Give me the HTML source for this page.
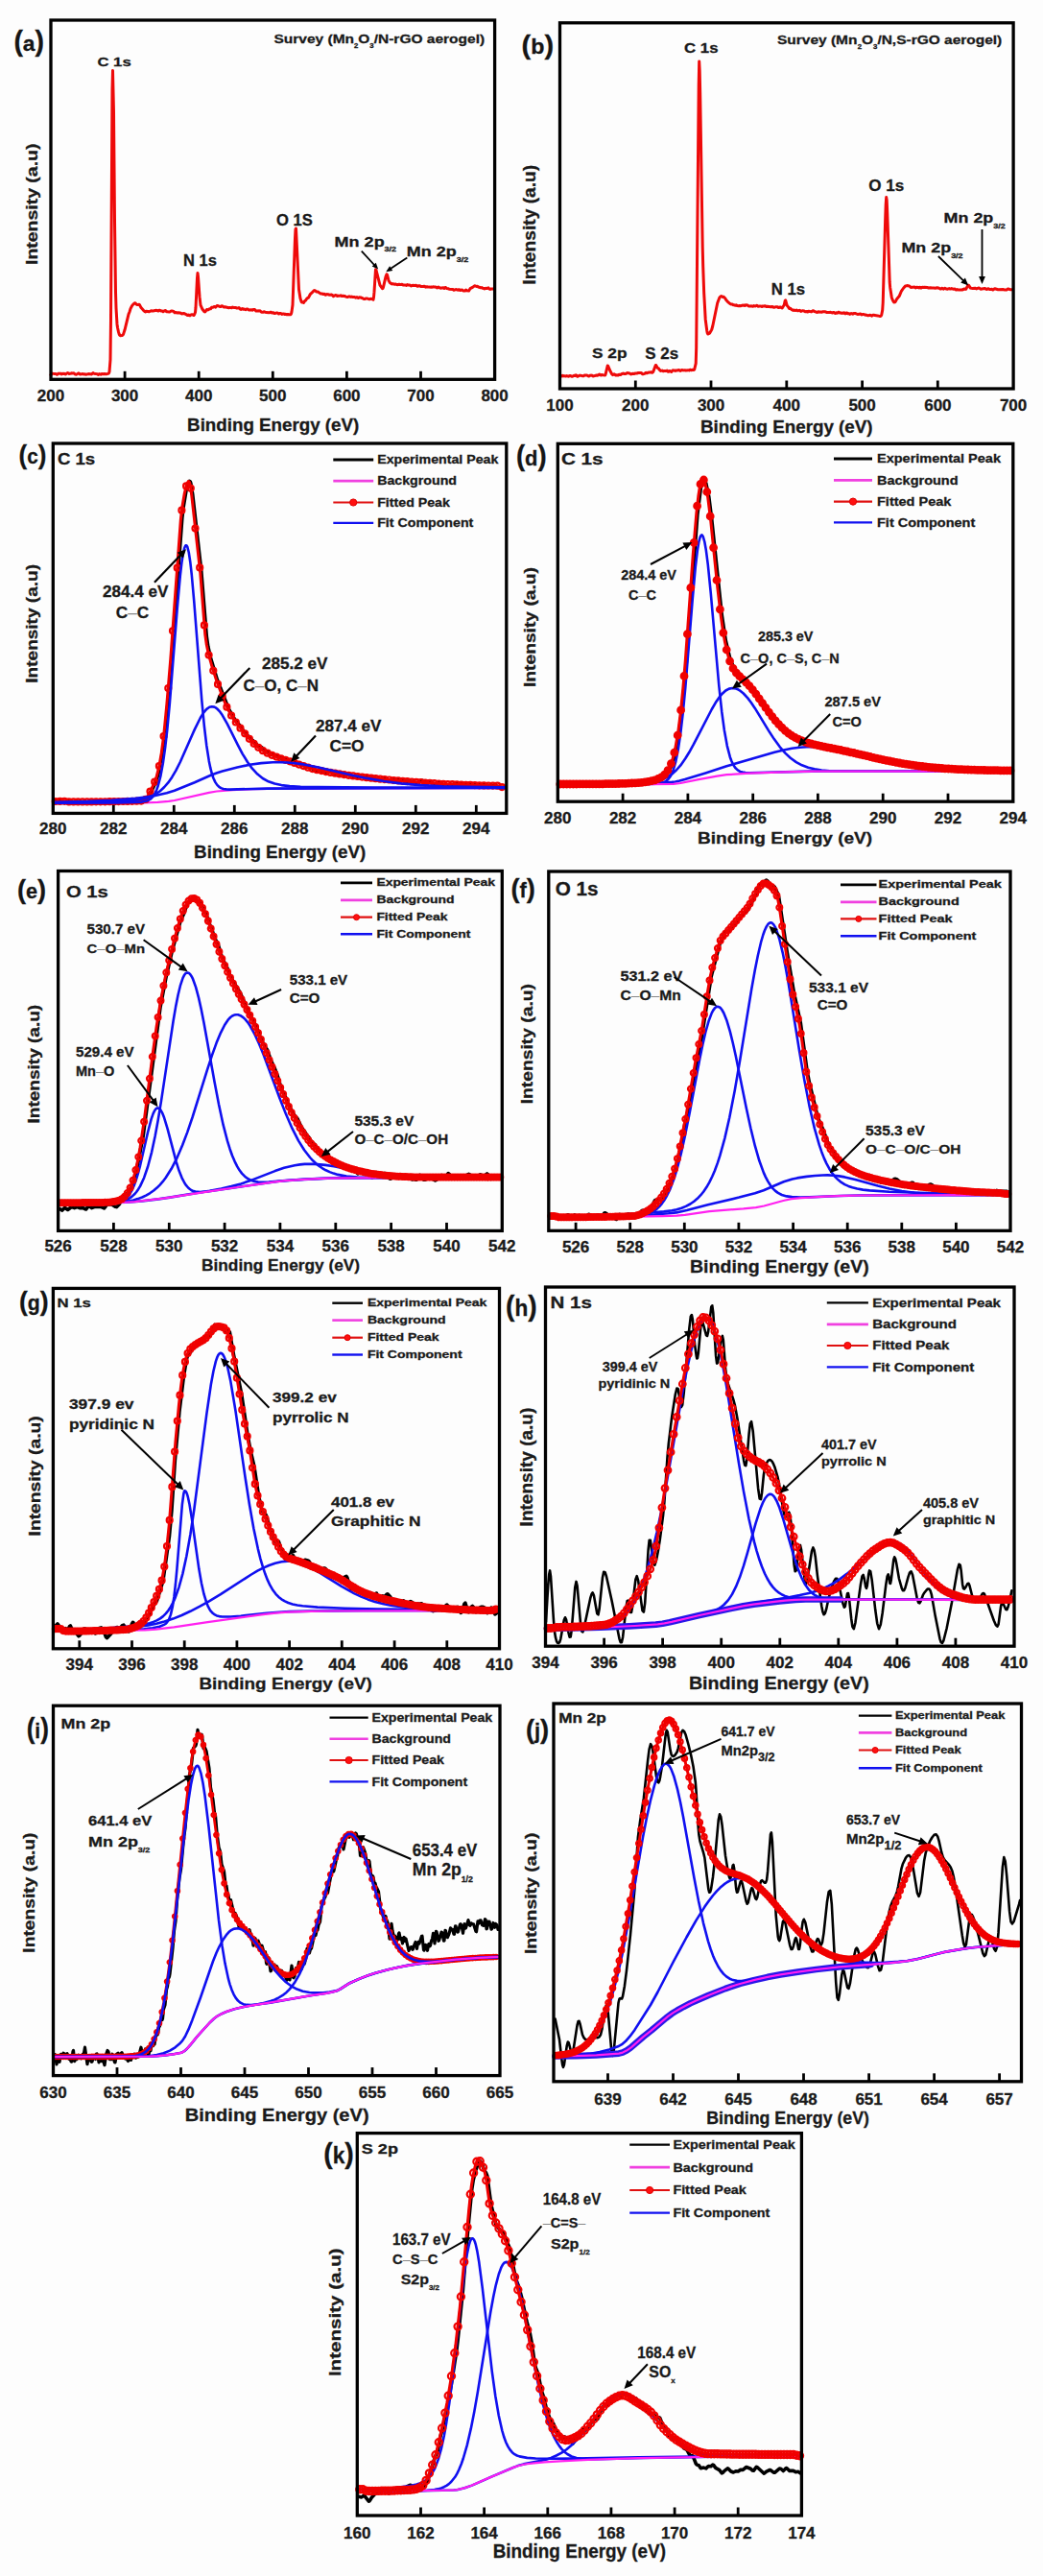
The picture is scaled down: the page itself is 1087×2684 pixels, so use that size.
<!DOCTYPE html>
<html><head><meta charset="utf-8"><style>
html,body{margin:0;padding:0;background:#fdfdfd;}
body{width:1087px;height:2684px;overflow:hidden;font-family:"Liberation Sans",sans-serif;}
svg{display:block;}
text{stroke:#1a1a1a;stroke-width:0.3px;}
</style></head><body>
<svg width="1087" height="2684" viewBox="0 0 1087 2684" font-family="'Liberation Sans', sans-serif" font-weight="bold"><rect width="1087" height="2684" fill="#fdfdfd"/><path d="M53,390.6l1.5,-1.5l1.5,0.3l2,0l1,0.8l0.5,0l1.5,-1.1l1,0.2l1,-0.2l1,0.8l1,-0.6l1,0.2l1,-0.2l1,0.6l0.5,0.1l1,-1l1,-0.5l1.5,1l1,-0.3l0.5,0.1l1,-0.5l1.5,0.2l1,-0.2l1.5,1.3l1,0.1l2.5,-1.4l1.5,1.2l3,-0.5l1,0.5l1,-0.2l1,0.4l2.5,-0.6l2.5,0.1l1,0.3l1.5,-1.4l1,0.6l1.5,0.4l2,0.1l1,0.7l1,-0.8l1.5,0.6l1,-0.7l1.5,0.2l1,-0.3l2.5,0.4l1.5,-0.4l1,-0.5l0.5,-1.6l1,-12.5l0.5,-41.5l1.5,-240.5l0.5,-19.3l1,43.5l1,113.1l1,74.1l0.5,16.6l1,16.9l0.5,3.6l1,4.6l0.5,1.8l0.5,1.2l0.5,0.5l0.5,0.3l1.5,-0.1l1,-0.6l0.5,-0.6l1.5,-4.6l4,-16.4l1,-2.4l1,-3.4l1.5,-2.9l1.5,-1.8l1.5,-1.1l0.5,0l1,1.1l1,0.7l2,-0.4l0.5,0.4l1.5,3l2.5,2.7l1.5,1.4l0.5,0.2l1,-0.7l3,0.6l2,-1.1l1,0.3l1,0l3.5,-0.7l2,0.7l1,-0.8l2,0.8l1,0l1,0.7l1.5,-1l1,-0.1l1,1.1l1,0l2,0.4l1,-0.4l1,-0.8l0.5,0l2,0.6l1,1.2l1,-0.2l2,0.5l1,-0.2l1.5,0.1l2,1l1,-0.1l1,-0.4l0.5,0.2l2.5,1.2l0.5,0.6l0.5,0.2l1,-0.5l1,0.7l0.5,0l1,-0.9l1,-0.2l2,0.8l0.5,-0.6l1,-2.4l0.5,-5l1.5,-30.7l0.5,-5.4l0.5,4l1.5,20.8l1,8.6l2,4.5l2,2.5l0.5,0.1l0.5,-0.3l1.5,-2.1l1,0.4l0.5,-0.1l1.5,-1.1l1,0.1l1,-1.5l1.5,-0.1l1.5,-0.8l1,0.8l1.5,-1.5l0.5,-0.3l3,1.2l0.5,-0.1l1,-0.8l0.5,0l1.5,1.2l1.5,-0.2l4,1l1,-0.3l2,0.4l1,-0.7l1,0.3l2,0l1,0.6l1.5,0l1,-0.5l1.5,1.7l0.5,0.2l1.5,-0.9l1,0.7l1,-0.2l1.5,0.7l1,-0.7l1,0l1.5,1l0.5,0.1l1.5,-0.4l1.5,0.5l1,-0.7l1.5,0.1l1.5,1.5l1.5,0l0.5,-0.3l1,0.1l1,-0.1l1.5,1.5l1.5,0l1,-0.5l2.5,0.8l3,0.2l1.5,-0.6l0.5,0l1,0.9l1.5,-0.4l1,0.9l0.5,0l2,-0.7l1,0.3l1,0.8l1.5,-0.6l0.5,0.1l1.5,0.9l1.5,-0.5l1,0.5l0.5,-0.2l2,0.5l1,-0.3l0.5,0.3l2,-0.3l0.5,0.2l0.5,-0.7l0.5,-2l1,-7.1l2.5,-69.5l0.5,-9.3l0.5,-1l3,63.5l1.5,9.4l1,3.2l0.5,0.8l1,-0.1l1,0.6l1,-1.6l1,-0.7l1.5,-2.3l1.5,-0.7l2,-3.8l2.5,-2.2l1,-1.3l0.5,-0.2l1,0.2l1.5,1.3l1.5,-0.1l1,1.1l0.5,0l1,0.8l2,0.2l1,0.5l1,-0.4l1,0.9l0.5,0.2l1,-0.7l0.5,-0.1l0.5,0.3l1,0l1,0.5l2,-0.3l0.5,0.1l1.5,1.6l2,-1.2l1,0.3l1,0.7l1,-0.4l1,0.2l1.5,-0.5l1,0.7l1.5,-0.3l1.5,0.2l1.5,0.7l1.5,0.4l2,-0.7l1.5,0.6l1,-0.3l1,0.4l2,-0.1l1,0.8l1.5,-0.6l1,0.8l0.5,0l1,-0.6l1.5,0.1l1,0.6l0.5,-0.1l1,0.8l1.5,0.4l1,-0.5l2,0l2,0.7l2,-0.6l2,1.1l0.5,-2.5l0.5,-5.6l1.5,-23.5l0.5,0.6l4,15.9l2.5,3.5l0.5,-0.3l0.5,-1.3l2.5,-10.8l1,-2.6l0.5,0.5l1.5,6l1.5,2.5l2,1.2l1,-0.2l2,0.5l1,-0.2l1,0.5l1,0.2l1.5,-0.5l2,0.4l1,-0.4l1.5,0.9l2,-0.1l1,0.5l1,-0.9l1,0.5l1,-0.1l1,0.3l1,0.6l1.5,-0.6l2,0.3l1.5,-0.4l1.5,1.1l1,-0.5l1,0.1l0.5,-0.2l1.5,0.9l1.5,0l1.5,-0.4l0.5,0.2l1,0.8l1.5,-0.5l2,0.4l2,0.1l0.5,-0.2l1,0.2l1,-0.4l1,0.3l1,-0.1l1,0.3l1,0.6l0.5,-0.1l1,-0.7l0.5,0.2l0.5,0.5l1.5,0.4l1,-0.3l1.5,-0.1l1,0.7l1,-1.1l0.5,0.1l1,1l1.5,0.2l1,0.5l4,0.2l1,0.9l2,-0.7l0.5,0l2,0.6l1,-0.5l1,0.8l2,-0.5l1.5,1.1l1.5,0l1,-1l1,0.7l2,0.3l1.5,-2.4l2.5,-1.3l2,-1.6l1,0.2l1,0.5l1,-0.2l1,0.7l2.5,0.8l1,-0.2l1,0.7l1,0.1l1,0.5l1.5,-0.6l1,0.3l1.5,-0.7l1,1.1l1,0.4l1,-0.5l2,0.2" fill="none" stroke="#ee0a0a" stroke-width="3.00" stroke-linejoin="round" stroke-linecap="round"/>
<path d="M583.7,392.1l1.5,-0.2l1,-0.6l1,0.6l1,-0.2l1.5,0.3l1,-0.4l1.5,0.6l0.5,-0.1l1,-0.6l1,0.1l1.5,0.7l2,-1l1,0.1l1,-0.7l0.5,0.3l1,1.3l2,-1l1,-0.2l2.5,0.6l1,0l1,-0.7l2.5,0l2,1.1l1,-0.8l1,-0.2l1.5,0.2l1,0.7l0.5,-0.1l3,-0.9l1,0.3l2,-1.2l1.5,1l1,-0.6l1,0.3l2.5,0.1l0.5,-1.2l2,-8.7l0.5,0.3l2.5,5.8l1.5,2.7l1,0.9l1,-0.8l0.5,-0.1l1.5,1.2l1,-0.3l1.5,0.3l1,-0.8l1.5,0.3l1.5,-1.2l0.5,0.2l1,-0.5l1,0.6l1,0l2,-1l2.5,0.4l1.5,0.9l0.5,-0.1l1,-0.6l1.5,0.3l1.5,-0.5l1.5,0l1.5,-0.5l3,-0.1l1.5,1.4l0.5,0l1.5,-0.4l1,-0.9l0.5,-0.2l1,0.5l1,-0.5l1.5,-0.3l1,0.1l0.5,-0.4l0.5,0.1l1,0.5l1,-0.8l2.5,-6.8l0.5,-0.2l1.5,2.9l1,0.2l1,1.6l1,0.9l0.5,0.3l1.5,-0.3l1,0.6l1,-0.3l1.5,0.2l1.5,-0.5l1,1.1l0.5,0.1l1,-0.9l2,1l1.5,-1.6l1,0.1l1.5,0.5l0.5,-0.3l1.5,0l0.5,-0.4l1.5,-0.1l1.5,0.8l1,-0.8l0.5,-0.1l2,0.4l1,-0.2l1,0.3l2.5,-0.3l1,0.2l1,-0.7l1,0.5l2,-0.5l1,0.3l0.5,-0.5l1.5,-6.3l0.5,-16.4l2.5,-273.4l0.5,-25l0.5,10.2l0.5,24l2.5,159.5l0.5,19.5l1,28.3l1.5,27.3l1.5,11.6l0.5,2.6l0.5,1.1l1.5,-0.6l0.5,-0.5l2,-3.4l1,-3.5l5,-24.2l2,-5.4l1,-1.4l1,-0.5l1.5,0.9l0.5,-0.2l0.5,0.1l1.5,1.5l1,1.6l2.5,2.8l1.5,1.2l1.5,0.7l1,-0.1l1,0.7l1,0l1,0.6l1,-0.5l1,0.7l1.5,0.2l1,-0.2l1.5,0.2l1.5,-0.6l0.5,0.2l1,-0.4l1,0.5l1,-0.7l2,0.3l1,0.9l2,0.1l1,-0.2l1.5,0.5l1,-0.7l1.5,0.4l1.5,-0.8l1.5,1.1l1.5,-0.2l1.5,0l1,0.4l1,-0.6l1,0.2l1,-0.4l0.5,0.1l1,0.8l1,-0.4l3.5,0.6l1.5,-0.3l2,0.8l1.5,-0.5l1.5,-0.1l0.5,0.1l1,0.7l0.5,0l1.5,-0.6l0.5,0.1l1,0.9l0.5,0.1l2,-3.2l1,-4.4l0.5,-0.5l1.5,5.4l1.5,1.8l0.5,1l0.5,0.4l1,-0.3l1,1.2l2,1l1,-0.3l1,0.5l1.5,-0.5l1,0.6l1,0l1,-0.4l0.5,0.2l1,1l1.5,-0.8l0.5,0l1,0.2l1.5,0.9l1.5,-0.2l1,0.4l1,-0.8l3,0.7l1.5,-1.1l0.5,-0.1l1,0.7l0.5,0l1,0.7l1,0.3l0.5,0l1,-0.6l0.5,0l0.5,0.4l1,-0.3l1.5,0.4l1,-0.5l2.5,0l1.5,0.4l0.5,0.4l1,-0.2l1.5,0.1l1.5,-0.2l1.5,0.7l1.5,-0.6l0.5,0.1l1,0.9l0.5,0l1,-0.7l1,0.6l1,-1l0.5,-0.1l1,0.8l1,0l1,0.4l1,-0.3l1,0.1l0.5,-0.4l0.5,0.3l0.5,0.6l0.5,0.1l1,-0.8l0.5,0l1,0.8l1,-0.2l1,0.9l1,-0.9l0.5,-0.1l1.5,0.7l1,-0.6l2,0l2,0.9l2,-0.2l1,-0.4l1.5,1l1.5,-0.5l2,0.8l1,-0.1l2,0.7l1.5,-0.5l1.5,0.2l1,0.6l1,-0.8l1,-0.1l1,0.4l3,0.3l2.5,0.7l1,-0.4l0.5,-1l1,-5.1l0.5,-7.6l2.5,-87.8l0.5,-14.6l0.5,-7.5l0.5,3.2l0.5,12.1l2.5,73.1l0.5,5.7l1.5,9.6l0.5,1.9l1,2.3l1,1.5l1,-0.2l0.5,-0.4l1.5,-3l2.5,-2.8l2,-4.9l2.5,-3.7l2,-2.1l1.5,-0.3l2.5,0.4l1.5,1.4l4,-0.4l1,0.9l1,-0.6l0.5,0l2,0.6l1,-0.7l1,0.7l0.5,0l1,-0.6l1,0.3l1,-0.4l3.5,0.3l1,0.6l2,-0.3l1,0.3l2.5,-0.1l1.5,0.3l2,-0.5l2,0.5l1.5,0.8l0.5,-0.1l1,-0.7l0.5,0.1l1,0.8l1.5,-0.9l0.5,0.1l1,0.7l1,0.1l2,-0.6l1,0.5l0.5,0l1,-0.5l1.5,0.6l2,-0.2l1,1l0.5,0.1l1,-0.5l1.5,0.5l1,-0.2l2.5,0.1l2.5,-1l1,0.4l0.5,-0.1l2,-4l0.5,-0.1l0.5,0.2l0.5,0.7l1,1.9l2.5,0.6l2.5,-0.4l1.5,0.7l2.5,-1l2,1.3l2.5,-0.5l0.5,0.1l1,-0.4l2,1.1l0.5,-0.1l1,-0.7l2,0.9l2,-0.4l1,0.7l0.5,0l1.5,-1.2l3.5,1.1l5.5,-0.3l1,0.5l2,0.1l0.5,-0.1l1,-1l0.5,0l2,0.7l2,0.1" fill="none" stroke="#ee0a0a" stroke-width="3.00" stroke-linejoin="round" stroke-linecap="round"/>
<path d="M56.8,834.8l3,-0.5l8,1.3l3,-0.8l4,0.7l5.5,-0.5l3,1l3.5,-0.6l6.5,0.8l3.5,-1.3l8.5,0.7l2.5,-0.2l2.5,0.8l3,-1l10.5,0.3l3.5,-0.7l8.5,-0.4l4.5,1.8l3.5,-1.5l7,-1.2l1.5,-1l4,-4.7l6,-13.1l2.5,-7.6l3,-13.2l4,-26.8l6,-65.5l12,-161.8l1.5,-12.4l2.5,-15l2,-8.4l1.5,-2.7l1,0.7l0.5,1.3l2,12.3l9,79.7l5.5,67.8l1.5,10.3l2.5,11.3l7,23.2l12,30.7l7,12.1l4,4.4l5.5,8.1l6.5,6.6l4,3.3l3.5,4.1l1,0.7l3,0.8l2.5,2.7l5,4l7.5,2l3,2l5.5,1.3l6,2.8l10,2.3l7,3l5,1.1l4,2.9l5,-0.2l7,2l4,-0.4l3.5,1.8l4,0.3l2.5,1.2l9,0l4,1.7l2.5,0.4l5.5,-0.9l4.5,1.3l4,-0.7l4.5,1.7l2.5,0l4.5,1.3l6,-1l4.5,1.9l11.5,-0.7l5.5,1.9l3,-0.4l4,0.3l4.5,1.6l2,-0.3l3,-2.3l1,-0.1l3.5,2.3l5.5,-0.5l4,2.1l3.5,-1.5l1.5,-0.1l3.5,2l3,0.3l3,1.1l6,-2.1l7.5,0.1l3,1.1l3.5,-0.7l3.5,0.5l6.5,-0.8l3,0.5l2.5,-0.8l3.5,1.4l10.5,0.8l4,1.6l5,-0.2" fill="none" stroke="#000000" stroke-width="3.60" stroke-linejoin="round" stroke-linecap="round"/>
<path d="M56.8,836.8l93.5,-0.3l14,-0.6l11.5,-1l6,-0.9l36,-8.1l8,-1.4l16.5,-1.3l21,-1.1l16,-0.3l81.5,-0.5l165.5,-0.3" fill="none" stroke="#ff20f0" stroke-width="2.20" stroke-linejoin="round" stroke-linecap="round"/>
<path d="M56.8,835l11,-0.2l4.5,0.6l29,-0.1l28,-0.3l20,-0.5l1,-0.3l1,-0.8l1.5,-2l5,-9.2l2.5,-5.3l3,-8.2l2.5,-10l2.5,-14.3l2.5,-19l3,-31.1l4,-48l10.5,-144.3l1.5,-13.3l2.5,-14.6l2,-8.4l1,-2.7l1,-1.4l0.5,0l0.5,0.6l0.5,1.4l1,5.2l1,7.7l9,80.9l5,63.7l1.5,10.7l2,9.6l3,10.8l5.5,17.3l7.5,19.9l4.5,10.2l4,7l6,8.6l11,13.4l5,5.4l5.5,4.8l4.5,3.3l5.5,2.9l7.5,3.1l37,12.5l9,2.1l11.5,2.2l15,2.3l18,2.4l18,2l20,1.8l28,2.2l19.5,1.2l30,1.2l25,0.7l1,0.1l3,1.2l4.5,0.1" fill="none" stroke="#f00000" stroke-width="3.00" stroke-linejoin="round" stroke-linecap="round"/>
<marker id="m5" markerUnits="userSpaceOnUse" markerWidth="10.0" markerHeight="10.0" refX="5.0" refY="5.0" overflow="visible"><circle cx="5.0" cy="5.0" r="3.0" fill="none" stroke="#f00000" stroke-width="2.2"/></marker>
<path d="M57.8,835l4.7,-0.1l4.7,-0.1l4.7,0.6l4.7,0l4.7,0l4.7,0l4.7,0l4.7,0l4.7,-0.1l4.7,0l4.7,0l4.7,-0.1l4.7,0l4.7,-0.1l4.7,-0.1l4.7,-0.1l4.7,-0.1l4.7,-0.1l4.7,-0.1l4.7,-1.7l4.7,-8.3l4.7,-9.9l4.7,-16.5l4.7,-31.1l4.7,-50.1l4.7,-59.7l4.7,-65.6l4.7,-60l4.7,-25.3l4.7,2.4l4.7,41.8l4.7,40.8l4.7,60l4.7,31.2l4.7,16.2l4.7,14.1l4.7,12.4l4.7,11.4l4.7,8.8l4.7,7l4.7,6.2l4.7,5.6l4.7,5.5l4.7,5l4.7,4l4.7,3.4l4.7,2.5l4.7,2.1l4.7,1.8l4.7,1.7l4.7,1.5l4.7,1.5l4.7,1.6l4.7,1.7l4.7,1.5l4.7,1.6l4.7,1.4l4.7,1.1l4.7,0.9l4.7,1l4.7,0.8l4.7,0.8l4.7,0.7l4.7,0.7l4.7,0.7l4.7,0.6l4.7,0.6l4.7,0.6l4.7,0.6l4.7,0.5l4.7,0.5l4.7,0.5l4.7,0.4l4.7,0.4l4.7,0.5l4.7,0.4l4.7,0.4l4.7,0.3l4.7,0.4l4.7,0.4l4.7,0.3l4.7,0.4l4.7,0.3l4.7,0.3l4.7,0.3l4.7,0.3l4.7,0.2l4.7,0.2l4.7,0.2l4.7,0.2l4.7,0.2l4.7,0.1l4.7,0.2l4.7,0.2l4.7,0.1l4.7,0.1l4.7,0.1l4.7,0.1l4.7,1.4" fill="none" stroke="none" marker-start="url(#m5)" marker-mid="url(#m5)" marker-end="url(#m5)"/>
<path d="M56.8,836.7l65,-0.3l18,-0.4l8,-0.4l5,-1l3.5,-1.7l1.5,-1.2l1.5,-1.6l2.5,-4l1.5,-3.3l1.5,-4.3l2.5,-9.6l2.5,-13.4l2.5,-17.8l2,-17.7l2.5,-26.3l8,-100.7l3,-33.1l1.5,-13l1.5,-9.9l1.5,-6.3l1,-2.2l0.5,-0.3l0.5,0l1,1.6l1.5,6l1.5,9.9l1.5,13.3l2.5,28.2l8,102.6l2.5,26.2l2.5,21l2.5,15.9l1.5,7.3l1.5,5.8l1.5,4.5l2,4.4l2,3l2,1.9l2,1.3l2.5,0.9l3,0.4l3.5,0.2l39,-1l131,-0.5l117,-0.1" fill="none" stroke="#1010f0" stroke-width="2.60" stroke-linejoin="round" stroke-linecap="round"/>
<path d="M56.8,836.2l51,-0.8l17,-0.6l11.5,-0.7l8.5,-0.9l7,-1.4l5.5,-1.9l5,-2.6l4.5,-3.1l4.5,-4.2l4,-4.6l4,-5.7l4,-6.8l4.5,-8.9l15,-33.9l6,-12.1l3.5,-5.6l3,-3.5l3,-2.1l2.5,-0.6l2.5,0.4l1.5,0.8l1.5,1.1l2.5,2.6l3,4.2l5,8.8l11,22l5,9.5l5,8.2l5,6.9l5.5,5.9l5.5,4.4l6,3.3l6.5,2.3l7,1.5l8.5,1l11.5,0.6l17.5,0.4l57.5,0.5l138,0.2" fill="none" stroke="#1010f0" stroke-width="2.60" stroke-linejoin="round" stroke-linecap="round"/>
<path d="M56.8,835.8l33,-0.8l26.5,-1.2l25,-2l10.5,-1.2l7.5,-1.2l14.5,-3.2l8,-2.4l21,-8.6l18,-7.9l5.5,-2.1l5.5,-1.7l15.5,-4l13,-2.7l12,-1.7l12,-0.9l8,0l7.5,0.3l8,0.7l8.5,1.2l15.5,3.1l34,7.9l16.5,3.5l18,3.1l18,2.4l20,1.7l22.5,1.1l27,0.7l38.5,0.4" fill="none" stroke="#1010f0" stroke-width="2.60" stroke-linejoin="round" stroke-linecap="round"/>
<path d="M582.8,816.7l2,-0.1l3.5,0.9l4,-0.3l4,-1.9l3,1.1l10,1l7.5,-0.8l3,0.5l3,-1l7,0.2l3,-0.4l5.5,1.4l8,-1.5l4.5,1l5,-0.4l2.5,-0.9l3,0.2l2.5,-0.6l5.5,-0.1l2.5,-0.7l3.5,0.1l4,-1.6l8.5,-1.1l7,-6.1l5,-7.1l2.5,-8.1l4,-17.8l4.5,-33.7l4.5,-48.1l11.5,-154.3l3.5,-27.8l1.5,-6.3l1.5,-2.3l1,0.4l1.5,3.1l3,14.1l3,23.9l10.5,99.5l4,26.4l4.5,18.6l3,7.5l3,4.9l11.5,12l5.5,6.3l3.5,5l4,3.8l8,12.3l7,9.4l13,13.9l7,5.1l4,3.8l3,0.2l3,1.6l4,1.1l6,2.5l7.5,1.5l4.5,-0.4l3,1.5l4.5,0.5l4.5,2.1l5,0.6l3,-0.3l6.5,1.1l4,2.2l4.5,0.1l3.5,2l3,1l6,0.3l3.5,2.2l4,-0.2l3,0.5l4.5,1.7l7,1.1l4,0.2l5.5,1.5l5.5,2.2l4,-0.3l3,0.7l6,-0.7l9,2.6l6,0.3l10,2.1l5,-0.7l3.5,0.8l2.5,-0.6l5,1.1l2.5,-0.5l3,0.2l3.5,-0.5l4,1.2l2.5,-0.6l2.5,0.3l3,-0.4l5.5,1.5l4.5,-0.8l6,0.6l3.5,-1.4l3,0.9l3,-0.3l2.5,0.5l5.5,0.1l3,-0.5" fill="none" stroke="#000000" stroke-width="3.60" stroke-linejoin="round" stroke-linecap="round"/>
<path d="M582.8,817.5l70.5,-0.3l22,-0.2l9,-0.4l5,-0.6l2,-0.6l2,-0.9l3,-2.4l2.5,-3.4l1.5,-2.9l1.5,-3.8l2.5,-8.7l2.5,-12.5l2.5,-16.9l2.5,-21.5l2.5,-26.1l7.5,-92.7l3,-32.9l2,-16.9l1.5,-9.1l1.5,-5.5l1,-1.6l0.5,-0.2l0.5,0.3l1,1.6l1.5,5.2l1.5,8.4l2,15.4l3,30.1l8.5,96.1l3,27.5l2.5,18.4l3,16.7l3,11.6l1.5,4.1l2,4.2l2,3l2.5,2.4l2.5,1.5l2.5,0.7l3,0.5l4.5,0.2l64.5,-1.7l208.5,0.1" fill="none" stroke="#1010f0" stroke-width="2.60" stroke-linejoin="round" stroke-linecap="round"/>
<path d="M582.8,817.5l62.5,-0.2l13,-0.2l9,-0.4l8.5,-0.9l7.5,-1.4l6.5,-2.1l5.5,-2.6l5,-3.2l4.5,-4l4.5,-5.1l5,-7.1l4,-6.5l4.5,-8.1l19,-36.7l4,-6.9l3.5,-5.2l3.5,-4.2l3.5,-3.2l3.5,-1.9l3.5,-0.6l3.5,0.4l2,0.8l2,1.1l4,3.2l4.5,4.9l3.5,4.6l4,5.9l14,23l6,9.2l6,8.2l5.5,6.3l5.5,5.2l6,4.3l6,3.2l6.5,2.4l6.5,1.6l7.5,1.2l8.5,0.7l11,0.3l178.5,0.2" fill="none" stroke="#1010f0" stroke-width="2.60" stroke-linejoin="round" stroke-linecap="round"/>
<path d="M582.8,817.1l46.5,-0.3l33,-0.5l26,-0.8l12,-0.6l3.5,-0.4l4.5,-0.9l5.5,-1.5l21.5,-6.6l22,-7.2l50,-14.5l9.5,-2.3l8.5,-1.7l8,-1.1l7.5,-0.5l6.5,0l7,0.4l7.5,0.8l8,1.2l14.5,2.8l31.5,7.2l15,3.1l16.5,2.9l16,2.2l18,1.7l20,1.2l23,0.8l30,0.4" fill="none" stroke="#1010f0" stroke-width="2.60" stroke-linejoin="round" stroke-linecap="round"/>
<path d="M582.8,817.5l68,-0.1l51,-0.5l7.5,-0.9l17.5,-3.7l20.5,-3.7l10,-1.4l24,-1.5l45,-1.6l22.5,-0.4l205.5,0" fill="none" stroke="#ff20f0" stroke-width="2.20" stroke-linejoin="round" stroke-linecap="round"/>
<path d="M582.8,817.1l65.5,-0.7l15,-0.6l10.5,-1.1l5,-1l4,-1.1l3.5,-1.3l3,-1.6l2.5,-1.9l2,-2l2,-2.7l2,-3.7l3,-7.8l3,-11.9l3,-17.5l2.5,-19.6l2.5,-24.7l2.5,-29.4l8,-111.2l3.5,-42.3l2,-17.9l1.5,-9.6l1.5,-5.9l0.5,-1.1l1,-1.1l0.5,0l0.5,0.4l1.5,3.4l1.5,6.5l1.5,9.1l3,24.5l7,68.8l3.5,30l2,14.1l2,11.7l2,9.5l2.5,9.1l3,7.6l1.5,2.8l2,3l3,3.4l9,8.5l4.5,4.9l5.5,7.1l17,23.5l5.5,6.6l5,5.1l6,5.1l6.5,4.2l6.5,3.2l8,2.8l10,2.5l26,5.3l38.5,8.8l18.5,3.8l12,2l12,1.7l12.5,1.3l13,1.1l29,1.4l40,0.7" fill="none" stroke="#f00000" stroke-width="3.00" stroke-linejoin="round" stroke-linecap="round"/>
<marker id="m16" markerUnits="userSpaceOnUse" markerWidth="10.6" markerHeight="10.6" refX="5.3" refY="5.3" overflow="visible"><circle cx="5.3" cy="5.3" r="3.3" fill="#f00000" stroke="#f00000" stroke-width="2.2"/></marker>
<path d="M583.8,817l3.4,0l3.4,0l3.4,0l3.4,0l3.4,0l3.4,-0.1l3.4,0l3.4,0l3.4,0l3.4,0l3.4,-0.1l3.4,0l3.4,0l3.4,-0.1l3.4,0l3.4,-0.1l3.4,0l3.4,-0.1l3.4,-0.1l3.4,-0.1l3.4,-0.1l3.4,-0.2l3.4,-0.2l3.4,-0.2l3.4,-0.3l3.4,-0.4l3.4,-0.5l3.4,-0.7l3.4,-0.9l3.4,-1.3l3.4,-1.7l3.4,-2.7l3.4,-4.4l3.4,-7l3.4,-11.5l3.4,-18l3.4,-26.3l3.4,-35.5l3.4,-43.7l3.4,-48.3l3.4,-47l3.4,-38.2l3.4,-22.8l3.4,-4.4l3.4,12.5l3.4,25.4l3.4,32.7l3.4,33.9l3.4,30.4l3.4,24.4l3.4,17.7l3.4,11.8l3.4,7.6l3.4,4.8l3.4,3.5l3.4,3.1l3.4,3.3l3.4,3.6l3.4,4l3.4,4.4l3.4,4.7l3.4,4.8l3.4,4.8l3.4,4.7l3.4,4.5l3.4,4.3l3.4,3.8l3.4,3.5l3.4,3.2l3.4,2.7l3.4,2.4l3.4,2l3.4,1.7l3.4,1.5l3.4,1.3l3.4,1.1l3.4,0.9l3.4,0.9l3.4,0.8l3.4,0.7l3.4,0.7l3.4,0.7l3.4,0.7l3.4,0.6l3.4,0.7l3.4,0.7l3.4,0.8l3.4,0.7l3.4,0.8l3.4,0.7l3.4,0.8l3.4,0.8l3.4,0.8l3.4,0.8l3.4,0.8l3.4,0.8l3.4,0.8l3.4,0.7l3.4,0.8l3.4,0.7l3.4,0.7l3.4,0.7l3.4,0.6l3.4,0.7l3.4,0.6l3.4,0.5l3.4,0.6l3.4,0.5l3.4,0.5l3.4,0.4l3.4,0.4l3.4,0.4l3.4,0.4l3.4,0.3l3.4,0.4l3.4,0.2l3.4,0.3l3.4,0.3l3.4,0.2l3.4,0.2l3.4,0.2l3.4,0.2l3.4,0.1l3.4,0.2l3.4,0.1l3.4,0.1l3.4,0.1l3.4,0.1l3.4,0.1l3.4,0.1l3.4,0.1l3.4,0l3.4,0.1l3.4,0l3.4,0.1l3.4,0l3.4,0.1l3.4,0" fill="none" stroke="none" marker-start="url(#m16)" marker-mid="url(#m16)" marker-end="url(#m16)"/>
<path d="M62.1,1259.4l2.5,1.7l3,-2.7l3,2.1l4,-3l3,1.1l3,-1.1l3,1.3l3,-0.2l3,1.4l2.5,-3.1l1,-0.4l2.5,2.1l3.5,-1.2l6,-0.1l3.5,1.7l2.5,-3.3l1.5,-0.9l4,0.1l3.5,2.4l1.5,0.3l3,-3l0.5,-5.4l6.5,-4l6,-9.2l2.5,-7.1l2,-8.2l7,-36.5l18,-135.1l6,-31.1l6,-26.2l9,-32.3l3.5,-7.6l4,-11.3l2,-2l3,-0.8l2.5,-2l1,0.6l2,2.8l2.5,1.6l1,1.2l3,7.1l2.5,4l3,9.1l2.5,5.3l3,9.8l3.5,6.2l4.5,14.8l5.5,10.7l3,8.3l4.5,8l5.5,8.6l10,23l4.5,7.5l3.5,7.5l3.5,9.9l4,7.7l3,4.4l3.5,10.4l4,8.4l3,7.7l4.5,15.1l3.5,6.3l4,10.3l5.5,9.7l3.5,3.9l4,8.9l3,3.7l2.5,4.4l2.5,2.6l2.5,4.3l3.5,3l2.5,4.3l3,3.5l1,0.6l2,0.2l2.5,2.1l2,-0.2l1,0.6l4.5,8.3l1.5,1.3l1.5,-0.2l2,-2l1,-0.4l3.5,4.2l2.5,0.2l2.5,1.2l2.5,0.4l6,1.9l2.5,3.7l1,0.6l3,-3.4l1,0.2l2,1.5l3,-1.2l1,0.7l3.5,5.7l1,0.7l1,-0.6l2.5,-4.1l1,-0.8l1,0.4l2,2.7l1.5,0.5l1.5,0l2.5,-2.6l1,-0.1l4,5.1l1,0.6l1,-0.2l3,-3l4.5,-1.3l3,1.6l3,-0.3l3,1.7l3.5,0.9l2,1.3l2,-0.5l2,0.9l1,-0.5l3,-4.5l1,0.4l3,4.5l1,0.1l4,-1.8l2.5,0l4.5,2.5l1,-0.5l4.5,-4.7l1.5,-0.3l3,2l1,-0.7l2.5,-3.2l1,0.6l2,3.6l1,0.7l2.5,-0.8l2,0.8l2.5,-0.5l2,0.6l3,-2.8l2.5,0.1l3,-1.5l1,0.4l2.5,2.8l1.5,0.9l2.5,-0.7l4.5,-3l1,0.4l2.5,2.3l1,-0.6l1.5,-2.3l1,-0.7l1,0.7l3,4.7l1,-0.5l1.5,-2.1l1,-0.4l2.5,1.2l2,1.8l1,-0.2l1.5,-1.4" fill="none" stroke="#000000" stroke-width="3.60" stroke-linejoin="round" stroke-linecap="round"/>
<path d="M62.1,1253.3l45,-0.2l12,-0.3l4,-0.5l3.5,-0.9l3,-1.5l2.5,-2l2.5,-2.9l2.5,-4.1l2.5,-5.4l2,-5.4l2,-6.5l2.5,-9.3l8,-34.8l3.5,-13.4l2,-5.7l1.5,-3.2l1.5,-2l1.5,-0.8l1.5,0.4l1,0.8l1,1.3l1.5,2.7l2,5l3.5,11.5l9,34.2l3,9.5l3,7.5l3,5.7l1.5,2.2l2,2.3l1.5,1.3l2,1.4l2,0.9l2,0.5l5,0.5l7.5,-0.6l60.5,-8.8l14.5,-1.9l17,-1.4l22,-1.3l17.5,-0.6l46,-0.4l128.5,-0.5" fill="none" stroke="#1010f0" stroke-width="2.60" stroke-linejoin="round" stroke-linecap="round"/>
<path d="M62.1,1253.2l49.5,-0.3l9,-0.5l6.5,-0.9l3,-0.8l2.5,-1l2.5,-1.3l2.5,-1.8l2.5,-2.3l2,-2.3l2,-2.8l2,-3.3l4,-8.7l4,-11.7l4,-15.2l3.5,-16.3l3,-16.2l3.5,-21.2l12.5,-82.9l2.5,-14.6l2.5,-12.6l2.5,-10.2l2.5,-7.4l1.5,-3l1,-1.4l1,-0.8l1,-0.3l1.5,0.4l1.5,1.2l1.5,2.2l1.5,3l3,8.4l3,11.3l2.5,11.2l3,15.1l11,61.4l4.5,23.5l4.5,20.8l4.5,17.3l2.5,8l2.5,7l2.5,5.9l2.5,5l2.5,4.2l2.5,3.3l3,3.1l3,2.3l3.5,1.8l3.5,1.1l4,0.7l5,0.2l6,-0.3l17.5,-1.5l19.5,-1.3l27.5,-1.2l84,-0.7l93.5,-0.2" fill="none" stroke="#1010f0" stroke-width="2.60" stroke-linejoin="round" stroke-linecap="round"/>
<path d="M62.1,1253.3l52.5,-0.4l12.5,-0.5l7.5,-1l4.5,-1l4.5,-1.3l4.5,-1.6l4,-1.9l4,-2.3l4,-2.8l3.5,-2.9l3,-3l3,-3.4l3,-3.9l6,-9.5l5.5,-10.6l6,-13.9l5,-13.2l5.5,-16.1l15.5,-49.6l5,-15.3l4.5,-12.5l4,-9.7l4.5,-8.9l4,-5.9l2,-2.1l2,-1.5l2,-0.9l2,-0.4l2,0.1l2.5,0.9l2.5,1.6l2.5,2.3l2.5,3l2.5,3.7l5,9.1l4.5,9.8l4.5,11.1l16.5,44.4l7,17.9l6.5,14.8l6.5,12.7l6,9.7l6,7.7l3,3.3l3.5,3.2l3,2.4l3.5,2.4l3.5,2l4,1.8l4,1.5l4.5,1.3l9,1.7l11.5,1l23,0.4l126.5,-0.4" fill="none" stroke="#1010f0" stroke-width="2.60" stroke-linejoin="round" stroke-linecap="round"/>
<path d="M62.1,1253.3l47,-0.2l22.5,-0.3l16.5,-1.4l17,-2l12,-1.8l41.5,-6.8l12,-2.3l10.5,-2.4l10,-2.7l8.5,-2.8l27,-10.5l9.5,-3.3l5.5,-1.4l5.5,-1.2l5.5,-0.8l5,-0.5l10.5,0l11,1l9,1.4l24,5l12,2.2l13,1.8l14,1.2l14.5,0.7l18,0.4l78.5,0" fill="none" stroke="#1010f0" stroke-width="2.60" stroke-linejoin="round" stroke-linecap="round"/>
<path d="M62.1,1253.3l64.5,-0.3l14,-0.8l29.5,-3.5l54.5,-8.4l58.5,-8.5l14.5,-1.6l24,-1.6l20.5,-0.9l24,-0.4l75.5,-0.5l80.5,-0.2" fill="none" stroke="#ff20f0" stroke-width="2.20" stroke-linejoin="round" stroke-linecap="round"/>
<path d="M62.1,1253.2l44.5,-0.3l8.5,-0.4l5.5,-0.8l4.5,-1.5l2,-1.1l2,-1.6l2,-2.2l1.5,-2l3,-5.7l3,-8.1l2.5,-9.1l2.5,-11.4l2.5,-13.7l4.5,-30.3l8.5,-66.4l4,-28.9l4.5,-27.7l5,-25.5l4,-17.5l5,-19.8l4.5,-16.2l3.5,-10.9l3,-7.4l2.5,-4.3l1.5,-1.9l1.5,-1.4l1.5,-0.9l1.5,-0.4l1,0l1.5,0.5l1.5,1l1.5,1.5l2.5,3.6l3,5.7l4.5,10.9l11.5,31.9l6.5,16.2l7.5,16l16.5,31.3l8,16.6l8,18.6l19,47l5.5,12.6l5,10.6l6.5,12.1l7,11.1l3.5,4.7l3.5,4.3l7,7.1l5.5,4.5l6,4.1l7,3.8l7,3.2l7.5,2.7l8.5,2.4l9,2l10,1.7l8.5,1.1l9,0.8l21.5,0.9l25.5,0.3l65.5,0" fill="none" stroke="#f00000" stroke-width="3.00" stroke-linejoin="round" stroke-linecap="round"/>
<marker id="m25" markerUnits="userSpaceOnUse" markerWidth="9.8" markerHeight="9.8" refX="4.9" refY="4.9" overflow="visible"><circle cx="4.9" cy="4.9" r="2.9" fill="none" stroke="#f00000" stroke-width="2.2"/></marker>
<path d="M63.1,1253.2l2.9,0l2.9,0l2.9,0l2.9,0l2.9,0l2.9,0l2.9,0l2.9,-0.1l2.9,0l2.9,0l2.9,0l2.9,-0.1l2.9,0l2.9,0l2.9,-0.1l2.9,-0.1l2.9,-0.1l2.9,-0.3l2.9,-0.3l2.9,-0.5l2.9,-0.9l2.9,-1.5l2.9,-2.4l2.9,-3.7l2.9,-5.5l2.9,-7.8l2.9,-10.7l2.9,-13.7l2.9,-16.9l2.9,-19.8l2.9,-21.9l2.9,-23l2.9,-22.8l2.9,-21.6l2.9,-19.5l2.9,-17.3l2.9,-15.5l2.9,-13.8l2.9,-12.6l2.9,-11.8l2.9,-11.2l2.9,-10.6l2.9,-9.7l2.9,-8.3l2.9,-6.4l2.9,-4.1l2.9,-2.3l2.9,-0.4l2.9,1.5l2.9,3.4l2.9,5.1l2.9,6.3l2.9,7.4l2.9,7.9l2.9,8.2l2.9,8.1l2.9,7.9l2.9,7.4l2.9,7l2.9,6.6l2.9,6.1l2.9,5.9l2.9,5.6l2.9,5.5l2.9,5.4l2.9,5.4l2.9,5.5l2.9,5.6l2.9,6l2.9,6.2l2.9,6.4l2.9,6.8l2.9,6.9l2.9,7.2l2.9,7.2l2.9,7.3l2.9,7.3l2.9,7.2l2.9,7.1l2.9,6.8l2.9,6.7l2.9,6.3l2.9,6.1l2.9,5.7l2.9,5.3l2.9,5l2.9,4.6l2.9,4.2l2.9,3.9l2.9,3.5l2.9,3.2l2.9,2.9l2.9,2.7l2.9,2.4l2.9,2.1l2.9,2l2.9,1.8l2.9,1.6l2.9,1.5l2.9,1.4l2.9,1.2l2.9,1.2l2.9,1l2.9,1l2.9,0.9l2.9,0.8l2.9,0.8l2.9,0.7l2.9,0.6l2.9,0.6l2.9,0.6l2.9,0.5l2.9,0.4l2.9,0.4l2.9,0.4l2.9,0.3l2.9,0.3l2.9,0.3l2.9,0.3l2.9,0.2l2.9,0.2l2.9,0.1l2.9,0.2l2.9,0.1l2.9,0.1l2.9,0.1l2.9,0.1l2.9,0l2.9,0.1l2.9,0l2.9,0l2.9,0.1l2.9,0l2.9,0l2.9,0l2.9,0l2.9,0l2.9,0l2.9,0l2.9,0l2.9,0l2.9,0l2.9,0l2.9,0l2.9,0l2.9,0l2.9,0l2.9,0l2.9,0l2.9,0l2.9,0l2.9,0l2.9,0l2.9,0l2.9,0l2.9,0l2.9,0l2.9,0" fill="none" stroke="none" marker-start="url(#m25)" marker-mid="url(#m25)" marker-end="url(#m25)"/>
<path d="M573.3,1268.2l2,-2.3l1,-0.3l4.5,2.3l2,0.2l2.5,1l1.5,-0.4l5,-3l1,0.4l3,3.1l3,-3.3l2.5,2l2.5,-1.5l2.5,1.6l3,0.3l1,-0.3l3.5,-2.7l3.5,2l2,0.5l3,-1.8l1,-0.1l3,2.2l1,-0.6l2.5,-3.5l1,-0.3l2.5,1.7l6,2l2,2.6l1,0.5l1,-1.1l1.5,-3.2l1,-0.9l2.5,2.1l2,0.5l1,-0.2l2,-2.1l1.5,-0.6l4,1.7l2,0.4l5.5,-2.3l3,-3.6l1,0l3,2.5l4,-1.8l1.5,-2l2.5,-6.9l1.5,-2.5l4.5,-0.6l3,-2l1.5,-1.9l8,-16l2.5,-6.6l6.5,-23.7l5.5,-31.8l4,-14.6l5.5,-33.6l7,-36l10.5,-66.7l9,-34.3l5.5,-11.3l5.5,-2.9l3,-5.3l2.5,-1l2.5,-4.1l4.5,-5.2l3,-1.9l2,-2.3l2.5,-4l6,-11.9l4,-9.5l1.5,-1.6l2.5,0l2.5,-4l1,-0.7l1.5,1.3l3,6l1,0.4l2,-1.3l1,0.8l3,6.3l1.5,4.9l8.5,56.9l7,41.3l7,32l7,51.6l2.5,12.3l7.5,30.6l2,6.7l4.5,10.1l6,16.8l1.5,2.3l3,3.2l3.5,8.4l1,1l2.5,1l1,0.8l2.5,4.8l1,1l2,0.1l2.5,1.5l2,-0.1l5,1.5l12,7l3,-1.6l5,4.7l1,0.3l2.5,-1l3,3.3l3,-2.2l2.5,-0.1l3,1.1l2.5,0.1l3,-2.2l1.5,-0.3l1.5,0.7l3.5,2.8l2.5,0.6l2.5,1.4l2,-0.1l2,0.6l2.5,-1.9l1.5,-0.1l4,4.6l2.5,-0.5l3,1l2.5,-1.4l2.5,1.3l2.5,-2.8l1.5,-0.5l1.5,0.6l2.5,2.4l2,-0.3l2.5,1.3l2.5,0.1l6.5,3l1,-0.1l2.5,-1.3l3,1.5l4.5,0.5l2.5,-0.5l3,-1.3l4,3.7l2.5,-2.3l1,-0.4l4.5,1.8l3,-0.9l2.5,1.6l3.5,-1l2.5,1.5l1,-0.4l2.5,-2.3l3,1.7l1.5,0.2l3.5,-2.7l2.5,0.6l7.5,0.3l3,1.1" fill="none" stroke="#000000" stroke-width="3.60" stroke-linejoin="round" stroke-linecap="round"/>
<path d="M573.3,1268.3l71,-0.4l13,-0.4l8.5,-0.7l7.5,-1.4l3.5,-1.2l3,-1.4l3,-1.9l2.5,-2l2.5,-2.4l2,-2.4l2.5,-3.5l2,-3.4l4,-8.1l4,-10.5l3.5,-11.3l4,-15.4l4.5,-20.3l4.5,-22.7l10.5,-55.9l3,-14.6l3,-12.9l3.5,-12.3l3,-7.8l1.5,-2.8l1.5,-2l1.5,-1.3l1.5,-0.5l1.5,0.4l1.5,1l1.5,1.8l2,3.5l3,7.4l3.5,11.7l3,12.1l3,13.5l11,54.2l4.5,20.8l4.5,18.5l4.5,15.6l4.5,12.3l2,4.5l2.5,4.8l2.5,3.9l2.5,3.3l2.5,2.5l3,2.3l4,2.1l5,1.4l5.5,0.7l9,0.5l9,-0.2l32,-1.4l20,-0.5l156.5,-0.5" fill="none" stroke="#1010f0" stroke-width="2.60" stroke-linejoin="round" stroke-linecap="round"/>
<path d="M573.3,1267.1l43.5,-0.7l35.5,-1.2l28.5,-1.8l11,-1l8.5,-1.1l5,-1l5,-1.6l4.5,-1.8l4.5,-2.4l4,-2.8l3.5,-2.9l3.5,-3.6l3,-3.7l3,-4.4l3,-5.2l3,-6.1l2.5,-5.8l3,-8.1l2.5,-7.7l5,-18.1l5,-21.9l5.5,-28.3l5.5,-31.9l12,-73.7l3.5,-19.6l3,-15l3.5,-14.9l2,-6.8l1.5,-4.2l2,-4.4l1.5,-2.3l1.5,-1.3l1.5,-0.5l1.5,0.5l1.5,1.5l1.5,2.5l1.5,3.4l3,9.3l3.5,14.6l3,15.1l3,16.9l11.5,71.1l5,29.2l5.5,28.4l5,21.6l5,17.5l2.5,7.3l2.5,6.4l2.5,5.5l3,5.6l3,4.6l3,3.8l3,3l3.5,2.8l3.5,2.2l4,1.8l4,1.4l5,1.2l6,1.1l7,0.8l20.5,1.4l29.5,1l39,0.8l56.5,0.5" fill="none" stroke="#1010f0" stroke-width="2.60" stroke-linejoin="round" stroke-linecap="round"/>
<path d="M573.3,1268.3l44.5,-0.4l34.5,-0.8l29.5,-1.6l15,-1.2l8,-0.9l11,-2.3l22,-5.9l32.5,-7.6l16.5,-4.3l9,-3.1l21,-8.9l9,-2.9l5,-1l10,-1.5l8.5,-0.9l8,-0.5l5.5,-0.1l5.5,0.3l6,0.7l6,1l11,2.5l23.5,6.6l12,3l13,2.5l13.5,1.8l15,1.2l18,0.7l22,0.3l43.5,0" fill="none" stroke="#1010f0" stroke-width="2.60" stroke-linejoin="round" stroke-linecap="round"/>
<path d="M573.3,1268.3l75,-0.4l42,-0.7l15,-0.5l8.5,-0.9l25.5,-3.7l35.5,-2.7l13,-1.3l8.5,-1.6l20,-5.5l8.5,-1.9l10.5,-1l24.5,-1.5l19.5,-0.7l19,-0.4l153.5,-0.5" fill="none" stroke="#ff20f0" stroke-width="2.20" stroke-linejoin="round" stroke-linecap="round"/>
<path d="M573.3,1267.1l5,0l3,1.1l1,0.1l13.5,0l40.5,-0.6l22,-0.6l4,-0.4l3.5,-1l4,-1.7l5,-2.6l3.5,-2.4l3,-2.6l3.5,-3.6l3.5,-4.2l3.5,-4.8l2,-3.4l2.5,-4.9l4.5,-11l3.5,-11l3,-12.5l8,-40.3l9.5,-54.7l6.5,-33.1l6,-38.5l3,-17.3l2.5,-11l6.5,-22.7l1.5,-3.7l2,-3.2l24,-28.3l2.5,-3.2l2,-3.2l5,-9.3l6,-9.1l2.5,-2.6l1,-0.5l1,-0.2l2,0.5l2,1.1l2.5,1.8l2,2.2l2,2.9l1.5,3l2,6l1.5,7.9l6,40.9l6,38.8l2.5,13.5l4.5,19.9l2,9.9l2,12.5l5,35.7l3,15.7l3,12.6l3,10.8l4,12.7l4.5,12.9l3,7.5l2.5,5.1l2.5,4l4,5.4l4,4.7l4.5,4.6l4.5,3.6l4.5,2.9l6.5,3.1l7.5,2.9l8,2.4l9.5,2.3l11.5,2.4l11.5,2l11.5,1.6l14,1.5l38,3.6l19.5,1.3l18,0.7l4,1l5,0.1" fill="none" stroke="#f00000" stroke-width="3.00" stroke-linejoin="round" stroke-linecap="round"/>
<marker id="m33" markerUnits="userSpaceOnUse" markerWidth="9.8" markerHeight="9.8" refX="4.9" refY="4.9" overflow="visible"><circle cx="4.9" cy="4.9" r="2.9" fill="none" stroke="#f00000" stroke-width="2.2"/></marker>
<path d="M574.3,1267.1l2.8,0l2.8,0.5l2.8,0.7l2.8,0l2.8,0l2.8,0l2.8,0l2.8,0l2.8,-0.1l2.8,0l2.8,0l2.8,0l2.8,0l2.8,-0.1l2.8,0l2.8,0l2.8,-0.1l2.8,0l2.8,-0.1l2.8,0l2.8,-0.1l2.8,-0.1l2.8,0l2.8,-0.1l2.8,-0.1l2.8,-0.1l2.8,0l2.8,-0.1l2.8,-0.1l2.8,-0.1l2.8,-0.2l2.8,-0.6l2.8,-0.9l2.8,-1.2l2.8,-1.4l2.8,-1.6l2.8,-1.9l2.8,-2.3l2.8,-2.8l2.8,-3.1l2.8,-3.5l2.8,-4l2.8,-4.8l2.8,-6l2.8,-7l2.8,-8.1l2.8,-10.5l2.8,-12.8l2.8,-14l2.8,-14.4l2.8,-15.2l2.8,-16.3l2.8,-16.5l2.8,-15.8l2.8,-14.2l2.8,-14l2.8,-17.1l2.8,-18.7l2.8,-16.8l2.8,-13.3l2.8,-10.1l2.8,-9.9l2.8,-8.2l2.8,-4.3l2.8,-3.2l2.8,-3.3l2.8,-3.3l2.8,-3.3l2.8,-3.3l2.8,-3.4l2.8,-3.4l2.8,-3.2l2.8,-3.4l2.8,-4.3l2.8,-5.4l2.8,-4.9l2.8,-4.3l2.8,-4l2.8,-2.4l2.8,-0.1l2.8,1.5l2.8,2.2l2.8,3.5l2.8,5.7l2.8,12.2l2.8,19.4l2.8,18.8l2.8,18.5l2.8,18.1l2.8,16l2.8,12.7l2.8,12.4l2.8,15.6l2.8,20.1l2.8,19.6l2.8,14.8l2.8,11.9l2.8,10.4l2.8,9.2l2.8,8.4l2.8,8.1l2.8,7.2l2.8,6.2l2.8,4.6l2.8,4l2.8,3.5l2.8,3.2l2.8,2.9l2.8,2.6l2.8,2.3l2.8,1.9l2.8,1.6l2.8,1.4l2.8,1.3l2.8,1.2l2.8,1l2.8,1l2.8,0.9l2.8,0.8l2.8,0.8l2.8,0.7l2.8,0.7l2.8,0.6l2.8,0.6l2.8,0.6l2.8,0.6l2.8,0.5l2.8,0.5l2.8,0.5l2.8,0.5l2.8,0.5l2.8,0.4l2.8,0.4l2.8,0.4l2.8,0.3l2.8,0.4l2.8,0.3l2.8,0.3l2.8,0.3l2.8,0.3l2.8,0.3l2.8,0.3l2.8,0.3l2.8,0.3l2.8,0.3l2.8,0.3l2.8,0.2l2.8,0.3l2.8,0.3l2.8,0.2l2.8,0.3l2.8,0.2l2.8,0.2l2.8,0.3l2.8,0.2l2.8,0.2l2.8,0.2l2.8,0.2l2.8,0.1l2.8,0.2l2.8,0.1l2.8,0.2l2.8,0.1l2.8,0.1l2.8,0.1l2.8,0.1l2.8,0l2.8,0.5l2.8,0.6l2.8,0.1" fill="none" stroke="none" marker-start="url(#m33)" marker-mid="url(#m33)" marker-end="url(#m33)"/>
<path d="M56.9,1695.2l3,-3.3l1,1.2l2.5,5.5l1,1.1l1,0.1l3,-3.1l2,1.2l0.5,-0.2l1.5,-3l1,-0.8l3,6.5l1,0.7l2,0.3l2.5,3.4l1,-0.6l2.5,-3.2l2.5,-4.1l1,0.2l2,3.1l0.5,0.1l2.5,-2.4l3,2.6l2.5,1.4l1,-0.6l3,-4.8l2,-0.6l1,0.4l1,1.2l3,8l1,1.2l4.5,-4.8l2.5,-4.3l3.5,-2.1l3,1.3l2.5,-3.1l1.5,-0.5l4,5.9l1.5,0.8l1,-1.2l2,-6.6l1,-1.8l0.5,0.3l1.5,3.7l1,0.8l3,-4.1l2,-1.1l2.5,0.1l2.5,-0.8l4.5,-7.5l3,-7.1l4.5,-6.5l6.5,-20.8l6.5,-46l2.5,-27.1l3.5,-53.2l4.5,-49.9l4.5,-36.7l3,-18.2l1.5,-5l2.5,-2.1l3,-4.5l2.5,-1.6l2,-3.2l2,-1.1l2,-2.6l2,0l1,-0.4l2.5,-3.7l2,-0.2l1,-0.8l5.5,-10.5l2.5,2.6l2,-2l1.5,-0.1l5,6l1,0.2l2.5,-0.5l1,1.3l4,23.2l8.5,42.5l6,40.8l3.5,18.5l3.5,14.8l4.5,29.6l2.5,12.3l2,5.6l3,2.8l1,2.1l4,14.8l2,4l2.5,6.9l1,1.1l2,-1.4l1,0.5l3,9.2l2,3l3,7.4l4,-1.7l2,-2.8l1,-0.5l3,5.8l0.5,0.1l2.5,-2.1l3.5,2.2l3,-1.4l3.5,0.9l1,1l3,7l3,0.6l2.5,2.2l1,-0.2l2,-1.8l2,0.3l2,-1.4l1,0.3l1.5,1.7l2.5,4.9l0.5,0.2l1.5,-1.2l1,-0.1l2.5,1.6l2.5,3.7l1,-0.1l1.5,-1.2l2,0.9l1,0l4.5,-2.3l1,1.5l2.5,8.6l1.5,3.3l1,-0.1l2,-2.7l1,-0.3l5,6.6l1,0.3l2,-0.9l1,0.2l3,3.9l1,-0.3l3,-2.8l1,0.4l2.5,3.6l1,-0.8l1.5,-2.6l0.5,-0.1l2.5,6.6l1,1.4l1,-0.9l2,-4.3l2.5,0.6l1.5,-2.1l1,-0.6l3,3.2l3,5.9l1,0l2,-1l2,2.4l1,0.2l4.5,-3.6l1,0.5l2,3.3l1,0.6l2.5,-3.2l1,-0.5l1.5,0.7l3.5,3.3l2.5,-1.6l2,0.3l2,-0.5l1,1l1.5,3.4l1,1.2l2.5,-0.6l6,2.8l3.5,-0.9l5.5,-0.7l1.5,-1l3,-3.4l1,-0.5l2.5,2.8l1.5,0.8l4,0.4l2,-1.5l1,-0.2l2.5,5l1,1l1,-0.8l2.5,-8.3l1,-1.1l2.5,7.7l1,1.8l1,-0.7l2,-4.8l1,-0.8l1,1.1l2.5,5.2l4,-4.5l1.5,-0.8l1.5,-0.2l2,1l3,5.4l1,-0.7l3,-4.8l1,0.8l3,6l3.5,-2.3" fill="none" stroke="#000000" stroke-width="3.60" stroke-linejoin="round" stroke-linecap="round"/>
<path d="M56.9,1699.5l55.5,-0.7l22,-0.7l16,-0.8l8.5,-1l7.5,-1.6l4.5,-1.8l1.5,-0.9l1.5,-1.4l2,-3l2,-5.2l2,-8.8l1.5,-9.7l1.5,-12.9l1.5,-16.1l5.5,-67.7l1.5,-10.9l0.5,-1.9l0.5,-1l0.5,0l1,0.9l1,2.2l1,3.4l1.5,7l2.5,15.4l7.5,52.8l2.5,14.2l2.5,11.2l3,9.8l1.5,3.6l1.5,2.8l1.5,2.2l2,2.1l2,1.4l2,1l2.5,0.7l3,0.4l9,0l10.5,-0.8l27,-2.9l13,-1.1l11,-0.6l22.5,-0.5l53.5,-0.4l141.5,-0.3" fill="none" stroke="#1010f0" stroke-width="2.60" stroke-linejoin="round" stroke-linecap="round"/>
<path d="M56.9,1698.3l31,-0.8l26.5,-1.2l21.5,-1.8l8.5,-1l7,-1.2l4.5,-1l4,-1.4l3.5,-1.5l3.5,-2l3,-2.3l3,-3l2.5,-3.1l2.5,-3.8l2.5,-4.6l2,-4.4l4,-11.1l4,-14.5l4,-18.4l4,-22.5l4,-26.4l13,-99.5l4.5,-30.5l2.5,-13.6l2.5,-10.3l1.5,-4.4l1,-2.1l1.5,-1.8l1,-0.4l1,0.3l1.5,1.5l1,1.8l1.5,3.6l2.5,8.6l3,14.1l5,29.9l10,68.8l4.5,29l4.5,25.5l4.5,21.3l2.5,10l2.5,8.6l2.5,7.4l2.5,6.3l2.5,5.3l3,5.1l3,4l3,3.1l3,2.4l3.5,2.1l3.5,1.6l4.5,1.4l5,1.1l5.5,0.8l15.5,1.3l28.5,1.2l34,0.8l47.5,0.5l78.5,0.4" fill="none" stroke="#1010f0" stroke-width="2.60" stroke-linejoin="round" stroke-linecap="round"/>
<path d="M56.9,1698.6l43,-1l17,-0.7l15,-1l12.5,-1.2l10,-1.2l8.5,-1.7l8.5,-2.3l9,-2.9l9,-3.6l9,-4.2l10,-5.1l9.5,-5.4l12,-7.2l32,-20.6l6.5,-3.8l5.5,-2.8l6.5,-2.9l6.5,-2.3l6.5,-1.5l6,-0.6l4.5,0.1l5,0.8l5,1.4l5.5,2.2l5,2.4l5.5,3.1l26,16.3l13,7.2l7.5,3.5l7,2.8l7.5,2.5l8,2.1l8.5,1.7l9,1.3l10,1.1l11.5,0.7l29,0.9l52.5,0.5" fill="none" stroke="#1010f0" stroke-width="2.60" stroke-linejoin="round" stroke-linecap="round"/>
<path d="M56.9,1699.6l64.5,-0.7l30,-0.6l11,-0.7l19,-2.2l35,-5.3l56,-7.8l15,-1.7l13,-1l24,-0.7l23.5,-0.4l171.5,-0.5" fill="none" stroke="#ff20f0" stroke-width="2.20" stroke-linejoin="round" stroke-linecap="round"/>
<path d="M56.9,1697.2l6.5,-0.1l1,0.5l2,1.7l2,0.3l36,-0.5l19,-0.8l9,-0.6l3,-0.6l3.5,-1.1l4,-1.6l2.5,-1.4l2.5,-2.1l2.5,-2.7l2,-2.8l2,-3.4l6,-12.6l3.5,-8.2l2,-5.3l3,-10.4l2.5,-13.9l2.5,-19.7l2.5,-24.5l6.5,-85.1l3.5,-38.1l2,-18.3l1.5,-11.1l1.5,-8.7l2,-9.2l1,-3.7l1.5,-3.9l1.5,-2.5l1.5,-1.8l2,-1.8l3.5,-2.7l7,-4l2,-1.3l2.5,-2.5l5,-6.4l2,-2.2l2,-1.5l2,-0.5l2.5,0.2l3,0.8l2,1l1,1.1l1,1.8l1.5,4.1l3.5,13.3l2.5,12.4l9,55.6l7,36l5.5,35.6l2,10l2,7.6l6.5,19.2l6,14.9l8.5,16.6l3,4.7l2.5,3l2.5,2l3.5,1.7l10,3.3l9.5,3.7l17.5,7.1l9.5,4.1l7.5,4l15.5,9.6l6.5,3.3l11,4l12.5,3.6l14,3.2l13.5,2.6l10.5,1.7l9.5,1.1l29,1.9l24,0.9l11,0.2l1.5,-0.3l2,-1l3,-0.1" fill="none" stroke="#f00000" stroke-width="3.00" stroke-linejoin="round" stroke-linecap="round"/>
<marker id="m41" markerUnits="userSpaceOnUse" markerWidth="10.0" markerHeight="10.0" refX="5.0" refY="5.0" overflow="visible"><circle cx="5.0" cy="5.0" r="3.0" fill="none" stroke="#f00000" stroke-width="2.2"/></marker>
<path d="M57.9,1697.2l2.7,-0.1l2.7,0l2.7,2l2.7,0.5l2.7,0l2.7,0l2.7,0l2.7,-0.1l2.7,0l2.7,0l2.7,-0.1l2.7,0l2.7,-0.1l2.7,0l2.7,-0.1l2.7,0l2.7,-0.1l2.7,-0.1l2.7,-0.1l2.7,-0.1l2.7,-0.1l2.7,-0.1l2.7,-0.1l2.7,-0.1l2.7,-0.2l2.7,-0.1l2.7,-0.2l2.7,-0.4l2.7,-0.6l2.7,-0.9l2.7,-1l2.7,-1.3l2.7,-2l2.7,-2.7l2.7,-3.6l2.7,-4.7l2.7,-5.6l2.7,-6l2.7,-6.2l2.7,-7l2.7,-9.2l2.7,-14.4l2.7,-21.3l2.7,-27.1l2.7,-34.7l2.7,-36.7l2.7,-31.9l2.7,-26.9l2.7,-20.8l2.7,-14l2.7,-8.9l2.7,-4.3l2.7,-2.6l2.7,-2.1l2.7,-1.7l2.7,-1.5l2.7,-1.5l2.7,-2.1l2.7,-3.1l2.7,-3.5l2.7,-3.2l2.7,-2l2.7,-0.3l2.7,0.4l2.7,0.9l2.7,3l2.7,7.8l2.7,10.7l2.7,13.7l2.7,17.1l2.7,16.8l2.7,16.4l2.7,14.6l2.7,13l2.7,14.9l2.7,17.9l2.7,16.9l2.7,12.2l2.7,8.9l2.7,7.9l2.7,7.5l2.7,6.9l2.7,6.3l2.7,5.6l2.7,5.2l2.7,5l2.7,4.5l2.7,3.4l2.7,2.3l2.7,1.4l2.7,1l2.7,0.9l2.7,0.9l2.7,0.8l2.7,1l2.7,1.1l2.7,1l2.7,1.1l2.7,1.1l2.7,1l2.7,1.1l2.7,1.2l2.7,1.1l2.7,1.1l2.7,1.1l2.7,1.2l2.7,1.2l2.7,1.3l2.7,1.3l2.7,1.5l2.7,1.6l2.7,1.7l2.7,1.7l2.7,1.7l2.7,1.7l2.7,1.6l2.7,1.5l2.7,1.3l2.7,1.2l2.7,1.1l2.7,0.9l2.7,1l2.7,0.9l2.7,0.8l2.7,0.8l2.7,0.7l2.7,0.7l2.7,0.7l2.7,0.7l2.7,0.6l2.7,0.5l2.7,0.6l2.7,0.6l2.7,0.6l2.7,0.5l2.7,0.5l2.7,0.5l2.7,0.5l2.7,0.5l2.7,0.4l2.7,0.4l2.7,0.4l2.7,0.3l2.7,0.3l2.7,0.2l2.7,0.3l2.7,0.2l2.7,0.1l2.7,0.2l2.7,0.2l2.7,0.2l2.7,0.2l2.7,0.1l2.7,0.2l2.7,0.1l2.7,0.2l2.7,0.1l2.7,0.1l2.7,0.2l2.7,0.1l2.7,0.1l2.7,0.1l2.7,0l2.7,0.1l2.7,0.1l2.7,0l2.7,0.1l2.7,0l2.7,-0.3l2.7,-1" fill="none" stroke="none" marker-start="url(#m41)" marker-mid="url(#m41)" marker-end="url(#m41)"/>
<path d="M569,1690l2.2,-38l1,-11.5l0.9,-4.1l0.9,6.1l3,46.3l1,11.2l1,6.2l1,3.8l1.1,1.8l1,0.3l1.1,-1l1.1,-3.5l3.5,-19.5l1.2,-2.8l1.1,2.3l2.3,13.2l1.2,4.9l1.1,-0.2l1.2,-8.3l3.4,-43.5l1.2,-5.8l1.1,4.5l3.5,39.7l1.1,7.5l1.2,0.7l1.1,-3.4l6.9,-32.3l1.2,-3.8l1.1,-1.4l1.2,2.9l3.4,19l1.2,1l1.1,-5.7l3.4,-33.2l1.2,-5.6l1.4,0.4l1.4,4.3l5.6,25.2l7.9,39.9l1.2,3.5l1.2,0l1.2,-5.4l3.5,-31.6l1.1,-6.1l0.9,-0.3l2.5,12.2l0.9,0.1l1,-5.6l3.4,-28.7l1.3,-3.6l1.4,4.5l4.4,31.4l1.4,1.5l1.3,-9.4l3.4,-55.1l1.1,-10.3l1.1,0l3.3,24.2l1.3,1.8l1.6,-5l1.8,-9.1l1.9,-11.7l3.4,-26.1l1.3,-13.8l3.1,-46.7l1.3,-14.2l3.4,-27.9l3.6,-23.2l1.6,-6.5l1.3,0.4l2.1,14.3l1.1,4.9l1.3,-2.3l1.6,-13.3l5.5,-66.2l1.5,-12.5l1.1,-1.8l1,5.1l2.1,24.9l1.8,13.3l0.5,2.2l0.7,-0.6l0.8,-5l2.5,-27.4l1,-5l1.1,0.3l3.6,13.3l1.1,0.8l1.1,-4.8l3.1,-25.6l1,-1.2l1,7.6l2.8,45l1,7.8l1.1,-1.2l3.6,-25l1.1,-2.6l0.9,4.2l2.3,30l1.1,8.9l1.5,6.6l5.5,16.2l1.6,6l2.7,14.4l6.7,43.8l1,4.5l1.1,0.6l1.1,-6.5l2.2,-26.7l1.2,-10.5l1.3,-2.3l1.6,9.8l5.4,59.8l1.6,10.9l1.3,0.5l1,-6.2l1.9,-19.3l1.1,-6.6l1.2,-3.6l1.2,-2.8l1.2,-1.8l1.3,-0.8l1.3,0.3l1.4,1.4l1.4,2.5l1.5,3.6l2.9,9.8l1.5,7.2l4.3,27.2l1.4,5.8l1.3,1.6l1.1,-1.5l1.2,-2.4l1.1,-0.8l1.1,3.1l1.1,9.3l3.1,42.1l1.1,7.1l1,-1l3.2,-23.8l1.1,-2.5l1.1,4.9l3.6,31l1.3,4.1l1.4,-3.8l4.6,-29.9l1.4,-3.9l1.2,2.8l1.2,7.1l2.1,19.3l4.4,31.9l1.1,5.8l1.2,2.9l1.2,-1.1l1.3,-4.2l2.5,-12l4.2,-13.6l1.5,-4l1.5,-2.5l1.5,0l1.5,3.8l4.7,22.3l1.3,3.8l1,-0.9l2.3,-13.5l0.9,-0.3l1,5.6l2.2,20.9l1.2,8.3l1.4,2.4l1.6,-6.2l5.6,-40.6l1.5,-8.1l1.2,-1.3l0.9,3l1.6,9.3l0.8,1.7l0.8,-2.8l1.4,-11.9l0.9,-3.9l1.1,0.9l1.5,8.9l3.6,31.6l1.9,13.5l1.8,5.9l1.8,-4.6l1.9,-12.1l3.6,-29.4l1.4,-8.8l1,-1.9l0.7,2.2l1,7.1l0.6,0.3l0.8,-4.1l2.5,-20.7l0.9,-2.9l0.9,1.5l1,4.5l2.9,16.7l2.9,10.2l1,1.9l1.2,0.2l1.3,-2.8l3.1,-11.4l1.6,-4.6l1.5,-1.2l1.5,3.8l4.6,24l1.4,4.6l1.3,0.6l1.1,-1.8l2.3,-6.3l1.2,-2.2l2.6,-3.3l1.3,-1.2l1.4,0l1.3,1.8l1.3,4.4l3.8,21.9l4.8,24l1.2,3.6l1.3,0.8l1.4,-2.7l3.2,-12.6l5.3,-26.8l6,-34.6l1.6,-5.5l1.2,0.7l0.9,5.4l1.5,14.8l0.9,4.3l1.1,0.6l1.1,-1.5l2.2,-4.1l1.1,-0.2l0.9,1.9l2.7,10.8l0.9,2.5l1,1.4l1.1,0.9l1.2,0.3l2.2,-0.4l1.1,-1.1l3.3,-5.7l1.1,-0.4l1,1l9.8,27.5l2,4.5l1.6,1.7l1.2,-2.4l2.5,-18.6l0.9,-3.7l1,-0.2l3.3,7.2l1.1,0.2l1.1,-2.6l1.2,-4.4l2.7,-12.9" fill="none" stroke="#000000" stroke-width="2.60" stroke-linejoin="round" stroke-linecap="round"/>
<path d="M570,1696.8l27.5,-0.3l28,-0.8l30.5,-1.4l27.5,-1.7l7,-0.9l7.5,-1.4l30,-7.1l33.5,-7.2l13,-2.6l11,-1.8l27,-3.3l16.5,-1.4l10.5,-0.4l36,0" fill="none" stroke="#2a18e8" stroke-width="6.70" stroke-linejoin="round" stroke-linecap="round"/>
<path d="M570,1696.8l26.5,-0.4l17.5,-0.8l12,-1.4l4.5,-0.9l4.5,-1.3l4.5,-1.8l4,-2.2l3.5,-2.4l3.5,-3l3.5,-3.8l3,-3.9l3,-4.6l3,-5.4l3,-6.3l2.5,-6l5.5,-15.6l5.5,-19.3l5,-20.9l4.5,-21.4l4.5,-23.5l19,-107.7l4,-20.1l4,-17.6l4,-14.4l2,-5.8l2,-4.9l2,-3.7l2,-2.7l2,-1.6l1.5,-0.5l1.5,0.4l2,1.7l1.5,2.3l2,4.2l1.5,4.1l2,6.6l4,16.7l3,15l3.5,19.7l13,81l5,29.3l5.5,28.6l5.5,23.9l2.5,9.2l3,9.7l2.5,7l3,7.2l2.5,5l3,5.1l3,4l3.5,3.7l3,2.4l3,1.8l3,1.4l3.5,1.1l3.5,0.8l4.5,0.6l12,0.8l18,0.3l127,0.3l69,0.6" fill="none" stroke="#1010f0" stroke-width="2.60" stroke-linejoin="round" stroke-linecap="round"/>
<path d="M570,1696.8l28.5,-0.3l29.5,-0.9l33.5,-1.6l24,-1.6l7.5,-1.1l8.5,-1.7l34,-8.3l7.5,-2.3l6,-2.9l3,-2l2.5,-2.1l4.5,-4.9l4,-6l4,-7.9l4,-9.9l4,-11.9l4,-13.5l8.5,-30.5l5,-15.6l2.5,-6.1l2.5,-4.7l2.5,-3l1.5,-0.9l1,-0.3l1,0.1l1,0.4l1,0.7l1.5,1.7l2.5,4.3l2.5,5.9l4.5,13.8l11.5,40.2l4,11.7l3.5,8.4l3.5,6.8l4,5.7l4,3.9l2.5,1.8l2.5,1.3l3.5,1.2l4.5,0.9l5,0.5l7,0.3l109.5,0.3l74,0.7" fill="none" stroke="#1010f0" stroke-width="2.60" stroke-linejoin="round" stroke-linecap="round"/>
<path d="M570,1696.6l29.5,-0.5l30.5,-0.9l36,-1.9l15,-1l6,-0.6l6.5,-1l7.5,-1.6l27.5,-6.7l43.5,-9.7l10.5,-2l38.5,-6.2l12.5,-2.4l9.5,-2.1l7,-2l6.5,-2.4l6.5,-3l6,-3.3l6.5,-4.2l7,-5.2l7,-5.7l16,-13.7l8.5,-6.5l4.5,-2.8l4.5,-2.1l4.5,-1.5l4,-0.6l3,0.1l2.5,0.8l2.5,1.4l3,2.5l2.5,2.7l3,3.7l14,19.6l7,8.7l4,4.1l4,3.5l4,2.8l4.5,2.4l4.5,1.9l5,1.5l5.5,1.1l6,0.8l16.5,1.1l32.5,0.9" fill="none" stroke="#1010f0" stroke-width="2.60" stroke-linejoin="round" stroke-linecap="round"/>
<path d="M570,1696.8l28.5,-0.3l29.5,-0.9l33.5,-1.6l24,-1.6l7,-1l7.5,-1.5l29,-6.9l34.5,-7.4l12,-2.4l9.5,-1.5l22,-2.8l11.5,-1.2l10,-0.8l12,-0.4l89,0.1l67.5,0.2l58.5,0.6" fill="none" stroke="#ff20f0" stroke-width="2.20" stroke-linejoin="round" stroke-linecap="round"/>
<path d="M570,1696.5l6,0l3,-1.1l1,-0.1l23.5,-0.5l22,-1.4l6.5,-0.8l2.5,-0.7l2.5,-1.1l4,-2.2l4.5,-3l2.5,-2.2l3,-3.4l4,-5.5l11,-16.3l3.5,-5.7l3,-5.6l3.5,-7.7l3,-7.9l2,-6.6l2,-9.1l3,-17.8l6.5,-44.1l10,-61.5l10,-56.9l4,-20.5l3.5,-13.7l3.5,-10.5l3,-8.2l2,-4.5l1.5,-2.7l2,-2.3l1.5,-0.7l1.5,0.2l1.5,0.9l1.5,1.6l2,2.8l2.5,4.5l2.5,5.3l2,4.7l1.5,4.5l2.5,10.1l5.5,26.5l11.5,59.3l1.5,6.5l1.5,4.8l1.5,3.3l2,3.2l2.5,3.3l2.5,2.5l5,3.9l9.5,5.3l4,3.5l2.5,2.8l2.5,3.4l4.5,7.4l4,9.1l5,13.8l15,50.5l3,9.3l4,10.3l3,6.8l2.5,4.6l2.5,3.1l3.5,2.8l3.5,2.3l3,1.5l3,1l2.5,0.3l2.5,-0.1l2.5,-0.7l3,-1.4l7.5,-4.9l4,-3.3l3.5,-4l9,-11.6l9,-9.9l5,-4.8l7.5,-5.3l5,-3.1l4,-1.5l3.5,-0.2l3,0.7l3.5,1.5l4.5,2.9l5.5,4l4,4.3l9.5,12l14,14.6l4,3.9l4,3.4l3.5,2.5l3.5,1.9l7,2.8l7,2.3l5.5,1.5l5.5,0.9l5.5,0.3l38,0" fill="none" stroke="#f00000" stroke-width="3.00" stroke-linejoin="round" stroke-linecap="round"/>
<marker id="m50" markerUnits="userSpaceOnUse" markerWidth="10.6" markerHeight="10.6" refX="5.3" refY="5.3" overflow="visible"><circle cx="5.3" cy="5.3" r="3.3" fill="none" stroke="#f00000" stroke-width="2.2"/></marker>
<path d="M571,1696.5l3,0l3.1,-0.3l3,-0.9l3.1,0l3,-0.1l3.1,0l3,-0.1l3.1,0l3,-0.1l3.1,-0.1l3,-0.2l3.1,-0.1l3,-0.2l3.1,-0.1l3,-0.2l3.1,-0.2l3,-0.3l3.1,-0.2l3,-0.3l3.1,-0.5l3,-0.9l3.1,-1.4l3,-1.8l3.1,-2l3,-2.4l3.1,-3.3l3,-3.9l3.1,-4.4l3,-4.6l3.1,-4.5l3,-4.5l3.1,-4.9l3,-5.4l3.1,-6.4l3,-7.4l3.1,-9.4l3,-14.4l3.1,-19.2l3,-21l3.1,-20.2l3,-18.8l3.1,-18.8l3,-18.7l3.1,-17.9l3,-17.1l3.1,-17.3l3,-16.7l3.1,-14.5l3,-11.1l3.1,-9.1l3,-8.3l3.1,-6.4l3,-3.4l3.1,0.3l3,3l3.1,5l3,6.3l3.1,7.7l3,11.8l3.1,14.6l3,14.8l3.1,15.7l3,15.5l3.1,16.1l3,14.8l3.1,8.7l3,4.8l3.1,3.6l3,2.7l3.1,2.2l3,1.7l3.1,1.6l3,1.7l3.1,2.5l3,3.2l3.1,4l3,4.7l3.1,5.9l3,7.4l3.1,8.2l3,9.3l3.1,10.2l3,10.3l3.1,10.3l3,10.6l3.1,10l3,8.4l3.1,7.5l3,6.7l3.1,4.7l3,2.7l3.1,2.2l3,1.9l3.1,1.3l3,0.7l3.1,0.1l3,-0.8l3.1,-1.3l3,-1.8l3.1,-2.1l3,-2.2l3.1,-2.8l3,-3.6l3.1,-4l3,-4l3.1,-3.7l3,-3.4l3.1,-3.4l3,-3.3l3.1,-2.9l3,-2.6l3.1,-2.2l3,-2l3.1,-2l3,-1.5l3.1,-1l3,-0.2l3.1,0.6l3,1.4l3.1,1.7l3,2.1l3.1,2.2l3,2.7l3.1,3.5l3,4l3.1,4l3,3.6l3.1,3.2l3,3.2l3.1,3.2l3,3.2l3.1,3l3,2.9l3.1,2.5l3,2.3l3.1,1.8l3,1.4l3.1,1.2l3,1.1l3.1,1.1l3,0.9l3.1,0.9l3,0.7l3.1,0.5l3,0.4l3.1,0.2l3,0l3.1,0l3,0l3.1,0l3,0l3.1,0l3,0l3.1,0l3,0l3.1,0l3,0l3.1,-0.1" fill="none" stroke="none" marker-start="url(#m50)" marker-mid="url(#m50)" marker-end="url(#m50)"/>
<path d="M57,2140.4l0.5,0.4l1.5,10.1l1.5,-7.5l0.5,0.2l1,4.9l1.5,-8.1l1.5,1.5l1,-2.7l0.5,0.1l1,4.7l0.5,0.1l1,-4l1,-0.5l2,5.8l1,-0.5l1,2.9l0.5,0.3l1.5,-10.6l0.5,-1.1l1,11.3l0.5,-0.4l0.5,-2.8l0.5,-0.3l1,1.4l1,-4l0.5,-0.3l0.5,1l1,-0.5l1.5,3.1l0.5,-0.3l1.5,-4.6l0.5,0.1l0.5,-1l1,-5.9l2.5,17.5l1,-6.7l0.5,-0.6l1,3.5l0.5,0.2l0.5,-0.8l0.5,0.2l0.5,1.8l0.5,-0.1l1,-4l1,-1.2l0.5,-0.3l1,2.8l1,-5.4l0.5,-0.2l1,2.5l1,6.4l0.5,-1.2l1,0l1,-3.5l1,3.6l1,-1.2l1.5,5.2l1.5,-10.9l1.5,-4.3l1,1.3l1.5,7.8l1,-0.5l0.5,0.5l1,-5.4l2.5,8.7l0.5,0l1.5,-8.6l1.5,-1.1l1,3.9l0.5,0.3l1,-3.2l1.5,-1.5l1.5,3.6l1,-0.5l1,3.2l1,-2.6l0.5,0.2l1,4.3l0.5,0.6l1,-1.6l1,-0.3l1,0.8l1.5,-5.4l0.5,-0.1l0.5,1.2l1,-1.9l1.5,4l1,-1.7l1,0.8l2,-4.3l1.5,-5.8l1.5,8.7l1,-3.5l1,-0.4l1,-3l1,3.4l1,-1.8l1,5.8l0.5,-1l1,-7.6l1,3l1,-7l0.5,-0.9l0.5,2.6l0.5,0.1l0.5,-2.5l0.5,-0.2l0.5,1.1l1.5,-10l1.5,0.1l0.5,-0.9l1,-6.8l1,-1.4l1.5,-7.3l0.5,-0.2l0.5,1.1l0.5,-1.2l1,-9.9l1.5,-4.4l1.5,-16l1,-3.4l1,-8.1l1,-2.1l0.5,-2.8l3,-26.8l1.5,-18.5l1.5,-9.8l1.5,-21.2l2.5,-24l1.5,-8.4l3,-32.1l1.5,-10.8l4.5,-55.8l2,-10.2l2,-17.8l2.5,-2.5l0.5,-1.7l1.5,-14.8l1,5.7l0.5,0.5l0.5,-0.5l1,0.1l1,-1l0.5,0.8l1.5,13.6l0.5,0.6l0.5,-1.5l0.5,0.2l1.5,3.5l3,18.3l1.5,19.7l2.5,13l1.5,13.2l1,3.1l1.5,17.9l2,15.3l1.5,4.5l1.5,13.3l2.5,7l1.5,14l1,1.4l1,7.5l0.5,1.8l0.5,0.2l1,7.1l0.5,0.6l0.5,-2.4l0.5,-0.1l2.5,10.9l1,2.4l1,0.2l2,5l2,9.1l0.5,0.6l1.5,-2.1l1,3.2l0.5,0.3l1,-2.1l1,2.4l1.5,-0.9l1,3.9l0.5,0.2l0.5,-0.7l1,2.3l1,-3.7l1.5,6.6l0.5,0.9l0.5,-0.6l1.5,9.5l1,-5.6l1,-1.8l1.5,6.4l1.5,-4l2.5,6.8l0.5,0.6l1,-2.3l2.5,8.8l1,-2.3l1,11.5l0.5,1.1l2,-6.4l2,13.9l0.5,-0.4l1.5,-5.9l1,2.7l1,-3.1l1.5,3.5l1,-1.8l3.5,8.6l1,-4.1l0.5,0.1l1,2.5l0.5,-0.4l1,1l1,0l1.5,7.1l1.5,-5.2l1.5,4.2l0.5,0.2l2,-14.8l1.5,12.3l0.5,0.4l1,-1.8l1.5,-8.3l1,2.6l0.5,0l1.5,-8.8l0.5,0.5l1.5,7.6l0.5,-0.6l2,-5.9l1,0.5l0.5,-1.2l1,-4.1l1.5,-11l0.5,-0.1l0.5,0.7l1,4.1l0.5,0l1,-4.1l1,-0.7l3.5,-16.2l1,2.6l1,-4.9l1,-0.7l1,-5.5l1.5,-2.8l1.5,-15.8l1.5,-6.1l1,-0.9l1,-3l0.5,-0.2l1.5,-9.4l1,5.2l4,-21.9l1,-2.5l1,2.1l0.5,-1.1l2.5,-11.6l1,-2.8l1,-7.6l1.5,-3.4l1.5,0.3l1,-4l0.5,0.6l1,6.5l2.5,-12.2l1,-0.9l1,-3.5l1,3.5l0.5,0.4l1.5,-2.9l1.5,-0.1l1.5,5.4l0.5,-0.1l1,-6l0.5,-0.6l1,1l1,5.1l0.5,0.9l0.5,-1.4l0.5,2.1l1.5,15.6l0.5,0.3l0.5,-0.6l2,-8.3l2,5.6l2.5,14.1l0.5,0.8l1,-6.7l0.5,1.2l1.5,13.5l2,1.5l0.5,1l1,5.9l1,0.5l1,4.6l0.5,0l2,4.2l2,17.1l1,4.5l1,1.3l1.5,5.7l0.5,-0.1l1,-3.1l0.5,0.4l1,4.8l0.5,0.1l1,3.4l1.5,15.1l0.5,-1.2l1.5,-14.6l1,7.4l1.5,6.5l1,-1.3l1,3l1,-1.2l1,2.3l1,-6.2l0.5,-0.9l1,5.5l0.5,1.1l0.5,-1.3l0.5,0.6l1,5.1l1,-5.8l0.5,-0.6l1,3.9l1,-2.5l3,12.6l1,-2.1l1.5,-1.8l0.5,-0.1l0.5,0.8l0.5,2l0.5,-0.3l0.5,-2.6l2,-4.9l1.5,7l1,-6.2l0.5,-0.9l1,1.7l2.5,-7.8l0.5,-0.1l1.5,14.3l0.5,0.5l1.5,-5.6l0.5,0.1l1.5,5.8l1,-6l0.5,-0.9l1,2.4l0.5,-0.7l1,-4.8l1,-2.2l1,-5.7l1.5,10.6l1.5,-12.7l0.5,0.4l2,9.6l0.5,-0.3l2.5,-8.9l0.5,0.1l2,9l0.5,-0.2l1,-10.6l0.5,0.3l1,5.8l1,1l1.5,-3.6l1.5,-6l1,1.4l1,0.1l1.5,4.8l0.5,0.1l1,-8.4l0.5,0l1,4.1l1,2l0.5,-0.5l2,-7.6l0.5,-0.2l1,1.4l1.5,8.2l1.5,-9.6l1,4.5l0.5,-0.3l2.5,-8.3l1.5,5.4l0.5,0.3l1,-2.5l1,0.8l1.5,0.2l2.5,7.6l0.5,0.3l1.5,-10.9l1,2.2l1,-3l1,-0.2l1.5,5.1l1,-0.1l0.5,0.5l1.5,-6.6l0.5,0.2l1,9.9l0.5,-0.2l1,-7.5l1,0.5l0.5,-0.5l2,8.1l0.5,-0.4l1.5,-6.3l1.5,4.8l1,-3.9l1.5,1.3l1,4.8l0.5,-0.1" fill="none" stroke="#000000" stroke-width="3.20" stroke-linejoin="round" stroke-linecap="round"/>
<path d="M57,2143l98.5,-0.4l8.5,-0.4l8.5,-0.8l8,-1.1l8,-1.4l1.5,-0.5l1.5,-0.9l3.5,-3l11,-13.2l13,-14.3l4.5,-4.3l3,-2.1l5.5,-2.9l5,-2.1l5.5,-1.9l7.5,-1.9l8.5,-1.7l24,-3.7l41.5,-7.2l16,-2.4l8,-1.7l3,-0.8l2.5,-1.2l8.5,-5.4l3,-1.7l9,-4l8,-3.2l7.5,-2.5l8,-2.3l11.5,-2.9l10.5,-2.3l16,-2.6l39.5,-4.5l23.5,-1.9l21,-0.8" fill="none" stroke="#ff20f0" stroke-width="2.20" stroke-linejoin="round" stroke-linecap="round"/>
<path d="M57,2143l68.5,-0.2l9.5,-0.3l6,-0.6l3,-0.6l3,-1l2.5,-1.3l2.5,-1.7l2,-1.9l2,-2.5l2,-3.1l2,-3.9l3.5,-9.2l3.5,-12.7l3.5,-17l3,-18.3l3.5,-25.8l3.5,-30.2l12.5,-123.9l4.5,-39.8l2.5,-17.6l2.5,-13.3l1.5,-5.7l1,-2.8l1,-1.7l1,-0.6l0.5,0.1l1,0.9l1,1.9l1,2.7l1.5,5.6l2,10l3.5,22.7l8,61.3l4,27.7l2.5,14.6l2,9.9l2.5,10.3l2.5,8.3l2,5.4l2,4.5l2.5,4.7l2.5,3.7l15.5,18.5l14,19.4l4.5,6l4.5,5l4.5,4l3.5,2.2l3,1l3.5,0.1l3,-0.9l3,-1.9l3,-2.9l3,-4.1l3,-5.2l2.5,-5.3l3,-7.3l5.5,-16l5,-16.9l12.5,-45.2l3.5,-11.4l3,-8.6l4,-9.9l3.5,-6.7l1.5,-2.1l1.5,-1.5l1.5,-0.9l1.5,-0.3l1.5,0.2l1.5,0.8l1.5,1.3l1.5,1.8l3,4.8l3.5,7.6l3,7.9l3,8.8l15,47.9l4.5,12.5l4,9.5l3.5,7l4,6.7l4,5.1l4,4l4.5,3.1l5,2.2l6,1.4l6.5,0.6l11,-0.4l40.5,-3.5l12.5,-0.7l11.5,-0.3" fill="none" stroke="#f00000" stroke-width="2.60" stroke-linejoin="round" stroke-linecap="round"/>
<marker id="m55" markerUnits="userSpaceOnUse" markerWidth="8.4" markerHeight="8.4" refX="4.2" refY="4.2" overflow="visible"><circle cx="4.2" cy="4.2" r="2.2" fill="none" stroke="#f00000" stroke-width="2.2"/></marker>
<path d="M58,2143l2.7,0l2.7,0l2.7,0l2.7,0l2.7,0l2.7,0l2.7,0l2.7,0l2.7,0l2.7,0l2.7,0l2.7,0l2.7,0l2.7,-0.1l2.7,0l2.7,0l2.7,0l2.7,0l2.7,0l2.7,0l2.7,0l2.7,0l2.7,0l2.7,-0.1l2.7,0l2.7,0l2.7,-0.1l2.7,-0.1l2.7,-0.2l2.7,-0.2l2.7,-0.4l2.7,-0.6l2.7,-1l2.7,-1.3l2.7,-2l2.7,-2.9l2.7,-4l2.7,-5.5l2.7,-7.2l2.7,-9.3l2.7,-11.7l2.7,-14.5l2.7,-17.2l2.7,-20.1l2.7,-22.8l2.7,-25l2.7,-26.5l2.7,-27.3l2.7,-27.3l2.7,-26.8l2.7,-24.9l2.7,-21.7l2.7,-17.2l2.7,-12l2.7,-5.5l2.7,2l2.7,8.6l2.7,13.9l2.7,17.8l2.7,20.2l2.7,21l2.7,20.8l2.7,19.3l2.7,17l2.7,14.2l2.7,11.6l2.7,9.1l2.7,7.2l2.7,5.5l2.7,4.5l2.7,3.6l2.7,3.3l2.7,3l2.7,3l2.7,3.2l2.7,3.4l2.7,3.5l2.7,3.8l2.7,3.8l2.7,3.8l2.7,3.8l2.7,3.7l2.7,3.5l2.7,3.1l2.7,2.8l2.7,2.4l2.7,1.9l2.7,1.3l2.7,0.7l2.7,0l2.7,-0.7l2.7,-1.6l2.7,-2.4l2.7,-3.3l2.7,-4.3l2.7,-5.2l2.7,-6.1l2.7,-6.9l2.7,-7.9l2.7,-8.5l2.7,-9.1l2.7,-9.5l2.7,-9.9l2.7,-9.9l2.7,-9.9l2.7,-9.5l2.7,-8.9l2.7,-8.2l2.7,-7.3l2.7,-6.5l2.7,-5.4l2.7,-3.8l2.7,-2l2.7,-0.1l2.7,1.6l2.7,3.2l2.7,4.7l2.7,5.8l2.7,6.9l2.7,7.8l2.7,8.3l2.7,8.8l2.7,8.8l2.7,8.8l2.7,8.6l2.7,8.2l2.7,7.6l2.7,7l2.7,6.3l2.7,5.6l2.7,4.9l2.7,4.2l2.7,3.6l2.7,2.9l2.7,2.5l2.7,1.9l2.7,1.5l2.7,1.2l2.7,0.8l2.7,0.7l2.7,0.4l2.7,0.3l2.7,0.1l2.7,0l2.7,-0.1l2.7,-0.1l2.7,-0.2l2.7,-0.2l2.7,-0.2l2.7,-0.3l2.7,-0.3l2.7,-0.2l2.7,-0.3l2.7,-0.2l2.7,-0.3l2.7,-0.3l2.7,-0.2l2.7,-0.2l2.7,-0.3l2.7,-0.2l2.7,-0.2l2.7,-0.1l2.7,-0.2l2.7,-0.2l2.7,-0.1l2.7,-0.1l2.7,-0.1l2.7,-0.1l2.7,-0.1l2.7,-0.1" fill="none" stroke="none" marker-start="url(#m55)" marker-mid="url(#m55)" marker-end="url(#m55)"/>
<path d="M57,2143l68.5,-0.2l9.5,-0.3l6,-0.5l3,-0.6l3,-1l2.5,-1.1l2.5,-1.7l2,-1.8l2,-2.4l2,-3l2,-3.7l3.5,-8.9l3.5,-12.2l3,-13.8l3,-16.9l3,-20.3l3.5,-27.6l12.5,-114.7l4.5,-36.7l2.5,-16l2,-9.7l1.5,-5.3l1,-2.6l1,-1.6l1,-0.7l1,0.5l1,1.6l2,6.1l2,9.8l2,13l4,32.8l10.5,97.4l3.5,26.5l3,18.2l3.5,16.3l1.5,5.4l2,5.9l2,4.6l2,3.6l2.5,3.2l2.5,2.1l3,1.5l3.5,0.7l4.5,0.2l6,-0.6l14,-1.9l42,-7.4l15,-2.2l7,-1.3l4.5,-1.1l2,-0.7l3,-1.6l9.5,-6.1l10.5,-4.6l9.5,-3.7l8,-2.5l11.5,-3.1l11,-2.5l10,-2l9,-1.4l13,-1.6l32,-3.5l21.5,-1.6l19,-0.7" fill="none" stroke="#1010f0" stroke-width="2.60" stroke-linejoin="round" stroke-linecap="round"/>
<path d="M57,2143l75,-0.2l14.5,-0.2l8.5,-0.4l8.5,-1.1l7,-1.8l6.5,-2.7l5.5,-3.3l4.5,-3.7l3,-3.2l3,-4.7l3.5,-7.3l4,-10l8.5,-23.2l13,-37.7l3.5,-8.8l3,-6.4l4,-7.3l4,-5.7l2,-2.2l2,-1.7l2,-1.1l2,-0.7l3.5,-0.3l2,0.4l2,0.8l4,2.4l4,3.7l3.5,4l3.5,4.5l13.5,19.6l6,8.1l6,7l5.5,5.4l5.5,4.1l6,3.3l6,2.1l7,1.3l7.5,0.4l7,-0.1l6.5,-0.7l6.5,-1.3l2,-0.6l2.5,-1.3l10,-6.2l9.5,-4.2l9,-3.5l8,-2.7l9.5,-2.6l11,-2.7l10.5,-2.1l14.5,-2.3l40.5,-4.6l22.5,-1.8l20,-0.7" fill="none" stroke="#1010f0" stroke-width="2.60" stroke-linejoin="round" stroke-linecap="round"/>
<path d="M57,2143l98.5,-0.4l8.5,-0.4l8.5,-0.8l8.5,-1.2l8,-1.4l3,-1.6l3,-2.7l3,-3.3l7.5,-9.3l13,-14.4l4.5,-4.3l4,-2.9l4,-2.1l4.5,-2l9,-3l9.5,-2.2l20,-3.8l8,-2.1l4,-1.4l3.5,-1.7l6,-3.7l3,-2.4l3,-3l3,-3.6l2.5,-3.5l5,-8.7l5,-11l5,-13.6l5,-16l5,-17.7l11,-41l3.5,-12l3,-9.2l4.5,-12l3.5,-7.3l2,-3.1l1.5,-1.8l1.5,-1.1l1.5,-0.6l1,0l1.5,0.5l1.5,0.9l1.5,1.5l2.5,3.4l3,5.6l3,7.1l3.5,9.7l15,47.9l4,11.6l3.5,9.1l4,9l4.5,8.2l4.5,6.3l2.5,2.8l2.5,2.3l4.5,3.1l5,2.2l6,1.4l6.5,0.6l11,-0.4l40.5,-3.5l12.5,-0.7l11.5,-0.3" fill="none" stroke="#1010f0" stroke-width="2.60" stroke-linejoin="round" stroke-linecap="round"/>
<path d="M57,2143l98.5,-0.4l8.5,-0.4l8.5,-0.8l8,-1.1l8,-1.4l1.5,-0.5l1.5,-0.9l3.5,-3l11,-13.2l13,-14.3l4.5,-4.3l3,-2.1l5.5,-2.9l5,-2.1l5.5,-1.9l7.5,-1.9l8.5,-1.7l24,-3.7l41.5,-7.2l16,-2.4l8,-1.7l3,-0.8l2.5,-1.2l8.5,-5.4l3,-1.7l9,-4l8,-3.2l7.5,-2.5l8,-2.3l11.5,-2.9l10.5,-2.3l16,-2.6l39.5,-4.5l23.5,-1.9l21,-0.8" fill="none" stroke="#ff20f0" stroke-width="2.20" stroke-linejoin="round" stroke-linecap="round"/>
<path d="M578.6,2103.6l4.4,21.4l2.4,21l0.8,5.5l0.8,2.4l0.9,-2.3l2.9,-20.3l1,-3.7l0.9,0.7l2.9,11.1l1,0.1l1.1,-4.6l3.8,-24.5l1.1,-4.4l1,-0.1l0.9,2.7l2.5,11.4l1.5,3.1l1.5,1.7l1,0.4l1.2,0l5.9,-2.4l1.6,-0.1l3.2,0.5l1.6,-0.8l1.5,-2.4l1.4,-5.7l2.6,-17.4l1.3,-6.4l1.2,-1.3l1.2,6.9l3.6,40.8l1.2,5l1.2,-4.9l4.8,-50.2l1,-4l0.9,-0.8l0.8,0.5l0.9,0l0.9,-2.5l1.9,-10.6l2,-15.5l4.1,-38.1l4.3,-46.4l3.6,-55.2l2.2,-16.6l3.8,-24.1l4.3,-39.9l1.4,-11l1.5,-5.4l1.5,2.7l1.5,8.9l2.9,22.1l1.3,5.8l1.1,0.6l1,-2.2l0.8,-4.2l1.8,-10.9l3.8,-33.4l1,-3.8l0.9,1.5l2.9,19.3l1,4.3l1.1,1.6l1.2,0.4l1.2,-0.7l2.5,-3.7l1.2,-3.9l3.5,-16.7l1.3,-2.1l1.4,1.1l1.5,3.3l2.9,10.3l2.7,11.1l2.5,12.5l2.2,15.6l0.8,10.1l2,35.6l0.8,9.4l1.1,6.6l3.7,12.3l1.2,5.1l3.9,32.4l0.9,3.6l0.9,-0.4l1,-3.3l1.9,-12.4l2.1,-18.9l3.7,-40.9l1.2,-5.6l1.2,2.5l1.3,8.4l3.5,32.2l2.1,12.8l1.8,9.2l0.9,2l0.8,-1.1l2.1,-12.6l0.7,-0.7l0.7,3.6l2.1,21.4l0.8,3.8l0.8,-0.4l2.9,-10.8l1,-0.8l1.1,3.1l3.8,18l1.1,2.8l1,-1.2l2.9,-13.3l0.9,-2.2l1,1.1l2.8,10l1,0.9l0.9,-2.1l2.9,-13.9l1,-3.2l1.1,-0.6l2.5,2.5l1.3,-0.1l1.1,-3l1,-8.9l2.9,-38.4l0.9,-1.9l1,9.5l3.8,76.8l2.1,22.2l0.7,3l0.8,1.2l0.8,-2.1l2.8,-17.7l1.2,-1.8l1.4,3.4l4.7,22.9l1.4,4.2l1.2,-0.1l1,-2.8l1.8,-7.6l0.8,-1.5l0.8,1.6l2,10.4l0.8,0l0.8,-4.5l1.8,-16.8l1,-7.1l1.2,-2.8l1.5,3.3l5.3,25.6l1.6,4.7l1.3,0.1l1.2,-2.9l2.2,-8.3l1.1,-2.3l1,0.6l1.8,5l1,0.9l1.2,-2.7l1.5,-9.7l3.4,-31.8l1.8,-11.3l1.6,-1.1l1.5,13.9l4.4,81.5l1.3,16l1.3,2.5l1.2,-6.2l2.3,-20.1l1.2,-4.9l1.2,1.7l3.5,16.7l1.3,0.8l1.4,-5.1l4.5,-29.8l1.3,-5.9l1.1,-1.4l1,1.4l2,6.3l1.2,2.7l3.1,5.3l1.7,2.7l1.6,1.9l1.5,0.3l1.3,-2.2l3.5,-13.1l1.2,-1.5l1.3,2.8l2.9,12.7l1.5,4.3l1.5,-0.6l1.6,-7.5l5.1,-41.6l1.7,-10.8l1.7,-6.7l1.7,-4.4l3.4,-6.3l1.5,-4.2l1.3,-5.6l3.4,-18.7l1.3,-4.5l3.2,-6.7l1.7,-2.1l1.8,-0.4l1.7,2l1.7,6.5l5.1,30.9l1.6,3.4l1.5,-4l4,-32.8l1.7,-8.8l2,-6.2l2.2,-5.4l2.4,-4.2l2.2,-2.7l2,-0.6l1.6,2.2l1.4,4.7l2.7,12.1l1.5,4.9l1.8,3.1l4.1,4.4l2,2.8l1.7,4.1l1.4,5.7l1.2,6.8l7.8,54.5l1.4,8.3l1.4,3.8l1.3,-2.6l3.4,-26.2l1.2,-4.8l1.2,-0.3l1.3,2.2l1.3,3.8l4.2,14.9l4.9,19.8l1.5,2.8l1.3,-1.3l3.5,-15.1l1.2,-2.8l1.4,1.7l2.9,10.1l1.4,2l1.5,-4.2l1.4,-14.7l4.4,-68.7l1.4,-10.1l1.4,4.4l1.5,14.8l2.9,37.1l1.4,10.8l1.5,2.2l1.6,-2.4l5.5,-18.1l0.9,-3.9" fill="none" stroke="#000000" stroke-width="2.60" stroke-linejoin="round" stroke-linecap="round"/>
<path d="M578.5,2142.5l22,-0.3l21,-0.9l23.5,-1.7l4,-1l4,-2l4,-2.8l13.5,-11.7l8.5,-6.7l15,-12.7l6,-4.5l6,-3.7l6.5,-3.6l7,-3.6l18.5,-8.2l18,-7.1l15.5,-5.2l14,-3.6l14.5,-3.3l13.5,-2.5l18,-2.8l19,-2.6l18.5,-2.1l14,-1.2l24.5,-1.8" fill="none" stroke="#2a18e8" stroke-width="6.70" stroke-linejoin="round" stroke-linecap="round"/>
<path d="M578.5,2141.9l10.5,-1l4.5,-0.8l4,-1l3.5,-1.3l3.5,-1.6l3,-1.8l3,-2.2l3,-2.7l2.5,-2.7l3,-3.8l2.5,-3.7l5,-9.2l5,-11.8l4.5,-13l4,-13.6l4.5,-17.5l4,-18l6.5,-34.3l15,-87.5l4,-20.7l4,-18.1l4,-15.3l2,-6.4l2,-5.4l2,-4.4l2,-3.3l2,-2.3l1.5,-0.8l1.5,0.1l1.5,1l1.5,1.8l1.5,2.8l3,7.9l3.5,12.8l3,13.4l3,15.2l11.5,64.2l4.5,23.6l5,23.1l5,19l2.5,7.9l2.5,6.9l2.5,5.8l3,5.8l2.5,3.9l3,3.7l3,2.8l3.5,2.3l3.5,1.4l4,0.8l5,0.2l5.5,-0.4l7,-1.1l31,-5.8l17,-2.6l17,-2.3l24,-2.6l48.5,-3.7l13,-1.2l10,-1.2l11,-2.2l20,-5.3l7.5,-1.8l13,-2.3l11,-1.7l8,-0.9l22.5,-1.8l12.5,-0.8l11.5,-0.4" fill="none" stroke="#1010f0" stroke-width="2.60" stroke-linejoin="round" stroke-linecap="round"/>
<path d="M578.5,2142.2l14,-0.5l12.5,-0.8l10.5,-1.2l9.5,-1.7l10,-2.5l9,-3.2l4,-2.1l4,-3.4l4.5,-5.1l5,-6.8l16.5,-25.9l7.5,-13.5l16,-31l14,-26l10,-17.6l9,-14.3l4.5,-6.4l4,-5.2l4,-4.6l3.5,-3.6l4,-3.4l3.5,-2.4l4,-2.1l3.5,-1.2l2.5,-0.4l2.5,-0.2l2.5,0.2l3,0.6l2.5,0.8l3,1.4l5.5,3.4l5.5,4.5l6.5,6.4l7,7.8l15.5,18.4l7,8l8,8.3l7.5,6.8l8.5,6.4l4.5,2.8l4.5,2.5l4.5,2.1l5,1.9l10,2.9l5.5,1.1l6,0.8l12.5,0.9l14,-0.1l17.5,-1.1l9,-0.9l6.5,-1.1l7.5,-1.7l24,-6.2l22,-3.7l10,-1.3l21,-1.7l14,-0.9l12.5,-0.4" fill="none" stroke="#1010f0" stroke-width="2.60" stroke-linejoin="round" stroke-linecap="round"/>
<path d="M578.5,2142.5l20,-0.3l19.5,-0.7l23,-1.6l4.5,-0.4l2.5,-0.5l4,-1.8l5,-3.4l13.5,-11.7l8.5,-6.7l13.5,-11.5l5,-3.9l4.5,-3.1l9,-5.2l10,-5.1l14,-6.2l15,-6.1l10.5,-3.9l10,-3.3l11.5,-3.1l12,-2.8l14.5,-2.9l16.5,-2.8l17.5,-2.5l27,-3.4l9,-1.5l5.5,-1.2l4.5,-1.3l4,-1.5l4,-2l5.5,-3.8l5.5,-5.2l5,-6.4l4.5,-7.1l5,-9.6l5,-11.1l5,-12.3l11.5,-29.8l3.5,-8.4l3.5,-7.5l3.5,-6.4l3.5,-4.9l2,-2.1l1.5,-1.2l1.5,-0.9l1.5,-0.5l1.5,-0.3l2,0.2l2,0.6l2,1.2l3.5,3.2l4,5.4l3.5,5.8l3.5,6.7l14,30.2l7,13.7l4,6.9l3.5,5.2l3.5,4.6l3.5,3.9l4,3.7l4,2.8l4,2.2l4.5,1.8l4.5,1.2l5.5,0.9l6.5,0.6l8.5,0.3" fill="none" stroke="#1010f0" stroke-width="2.60" stroke-linejoin="round" stroke-linecap="round"/>
<path d="M578.5,2142.5l22,-0.3l21,-0.9l23.5,-1.7l4,-1l4,-2l5,-3.5l12.5,-11l8,-6.3l18,-15.1l5.5,-3.8l7.5,-4.4l7.5,-3.9l9,-4.3l13.5,-5.8l12,-4.8l9,-3.3l8,-2.7l18,-4.8l13.5,-3l13.5,-2.5l18,-2.8l18.5,-2.5l24.5,-2.7l49,-3.8l12.5,-1.2l10,-1.2l11,-2.2l20,-5.3l7.5,-1.8l12.5,-2.2l11,-1.7l8.5,-1l22,-1.8l13,-0.8l11.5,-0.4" fill="none" stroke="#ff20f0" stroke-width="2.20" stroke-linejoin="round" stroke-linecap="round"/>
<path d="M578.5,2141.6l10.5,-1.2l4.5,-0.9l4,-1.2l3.5,-1.4l3.5,-1.8l3.5,-2.3l3,-2.5l3,-3.1l3,-3.6l3,-4.4l2.5,-4.3l5,-10.4l5,-13.2l4.5,-14.6l4,-15.1l4.5,-19.5l3.5,-17.4l7,-40.7l15.5,-99.5l4.5,-25.7l4.5,-22.7l4.5,-18.9l4,-13l2,-4.9l2,-3.9l1.5,-2l1,-0.8l1,-0.4l1,-0.1l1.5,0.6l1,0.9l1.5,2l2.5,4.9l3,8.1l5,17.9l13,55.5l6,22.6l3.5,11.1l3,8.1l3.5,7.8l3.5,6.2l2,2.8l2.5,2.9l2.5,2.4l3,2.1l5,2.5l11.5,3.7l6,2.5l6.5,3.8l6,4.6l5.5,5l6.5,6.8l22.5,26.5l9.5,10.4l5.5,5.4l5,4.4l5,3.9l5,3.5l7.5,4.2l7.5,3.1l7.5,2.1l4,0.6l3.5,0.2l3.5,-0.1l3,-0.4l5.5,-1.5l3,-1.4l2.5,-1.5l5,-4l4,-4.4l4,-5.4l4,-6.6l4.5,-8.8l7,-16l15,-38.3l3.5,-8l3.5,-7l3.5,-5.8l3.5,-4.3l3,-2.2l1.5,-0.7l2,-0.4l1.5,0.1l2,0.6l1.5,0.7l2,1.4l3.5,3.7l3.5,4.9l3,5.1l3.5,6.7l14,30.2l6.5,12.8l4,6.9l3.5,5.4l3.5,4.7l3.5,4l4,3.8l4,2.9l4,2.3l4.5,1.8l5,1.4l5.5,0.9l6.5,0.6l8.5,0.3" fill="none" stroke="#f00000" stroke-width="3.00" stroke-linejoin="round" stroke-linecap="round"/>
<marker id="m68" markerUnits="userSpaceOnUse" markerWidth="9.4" markerHeight="9.4" refX="4.7" refY="4.7" overflow="visible"><circle cx="4.7" cy="4.7" r="2.7" fill="none" stroke="#f00000" stroke-width="2.2"/></marker>
<path d="M579.5,2141.5l2.3,-0.1l2.2,-0.3l2.3,-0.3l2.3,-0.3l2.2,-0.4l2.3,-0.5l2.3,-0.6l2.3,-0.8l2.2,-0.8l2.3,-1.1l2.3,-1.2l2.2,-1.4l2.3,-1.7l2.3,-2l2.2,-2.3l2.3,-2.6l2.3,-3l2.3,-3.5l2.2,-3.9l2.3,-4.4l2.3,-5l2.2,-5.6l2.3,-6.1l2.3,-6.8l2.2,-7.5l2.3,-8.1l2.3,-8.8l2.3,-9.4l2.2,-10.1l2.3,-11l2.3,-11.9l2.2,-12.8l2.3,-13.4l2.3,-14.1l2.2,-14.4l2.3,-14.8l2.3,-14.9l2.3,-14.9l2.2,-14.6l2.3,-14.3l2.3,-13.7l2.2,-12.9l2.3,-12.3l2.3,-11.4l2.2,-10.6l2.3,-9.5l2.3,-8.4l2.3,-7.2l2.2,-5.9l2.3,-4.5l2.3,-2.6l2.2,-0.7l2.3,1.3l2.3,3.1l2.2,4.8l2.3,6.2l2.3,7.3l2.3,8.4l2.2,9.1l2.3,9.6l2.3,9.8l2.2,10l2.3,9.8l2.3,9.6l2.2,9.1l2.3,8.5l2.3,7.9l2.3,7.2l2.2,6.5l2.3,5.7l2.3,4.9l2.2,4.3l2.3,3.6l2.3,3l2.2,2.5l2.3,2l2.3,1.6l2.3,1.3l2.2,1l2.3,0.9l2.3,0.7l2.2,0.7l2.3,0.7l2.3,0.7l2.2,0.8l2.3,1l2.3,1l2.3,1.2l2.2,1.3l2.3,1.5l2.3,1.6l2.2,1.8l2.3,1.9l2.3,2.1l2.2,2.2l2.3,2.2l2.3,2.4l2.3,2.5l2.2,2.6l2.3,2.6l2.3,2.7l2.2,2.7l2.3,2.7l2.3,2.8l2.2,2.7l2.3,2.7l2.3,2.7l2.3,2.6l2.2,2.6l2.3,2.5l2.3,2.4l2.2,2.4l2.3,2.2l2.3,2.2l2.2,2.1l2.3,2l2.3,1.9l2.3,1.8l2.2,1.7l2.3,1.6l2.3,1.5l2.2,1.4l2.3,1.3l2.3,1.1l2.2,1.1l2.3,1l2.3,0.9l2.3,0.8l2.2,0.7l2.3,0.6l2.3,0.4l2.2,0.4l2.3,0.3l2.3,0.1l2.2,0l2.3,-0.2l2.3,-0.3l2.3,-0.5l2.2,-0.6l2.3,-1l2.3,-1.1l2.2,-1.4l2.3,-1.7l2.3,-2l2.2,-2.3l2.3,-2.7l2.3,-3l2.3,-3.4l2.2,-3.8l2.3,-4.1l2.3,-4.5l2.2,-4.8l2.3,-5.1l2.3,-5.4l2.2,-5.6l2.3,-5.8l2.3,-5.9l2.3,-5.9l2.2,-5.9l2.3,-5.8l2.3,-5.5l2.2,-5.3l2.3,-4.9l2.3,-4.5l2.2,-4l2.3,-3.3l2.3,-2.7l2.3,-2l2.2,-1.3l2.3,-0.5l2.3,0.2l2.2,0.9l2.3,1.5l2.3,2.1l2.2,2.7l2.3,3.2l2.3,3.7l2.3,4.1l2.2,4.5l2.3,4.7l2.3,4.8l2.2,5l2.3,5l2.3,5l2.2,4.8l2.3,4.7l2.3,4.6l2.3,4.3l2.2,4l2.3,3.8l2.3,3.5l2.2,3.3l2.3,2.9l2.3,2.7l2.2,2.4l2.3,2.1l2.3,1.8l2.3,1.6l2.2,1.3l2.3,1.2l2.3,1l2.2,0.8l2.3,0.6l2.3,0.6l2.2,0.4l2.3,0.4l2.3,0.3l2.3,0.2l2.2,0.1l2.3,0.2l2.3,0.1l2.2,0" fill="none" stroke="none" marker-start="url(#m68)" marker-mid="url(#m68)" marker-end="url(#m68)"/>
<path d="M373.8,2601.3l3,0.6l2,-1.5l1,0l4.5,5.8l1,-0.6l2,-3.3l4,-4.2l4,-1.9l2.5,-0.4l3,-1.7l1.5,0.5l2.5,2.8l1,0.4l3,-4.3l4,-0.1l2.5,2l2.5,-1.7l3,1.3l3.5,-4.3l3.5,-1.5l1,0.7l2,3.5l1,0.8l3.5,-3.6l1,0.6l1.5,2.2l1,0.3l5.5,-6.4l1.5,-2.9l7.5,-24l3,-7.2l2.5,-13.9l2.5,-9.2l5,-23.5l4,-22l5.5,-35.4l1.5,-12.7l5,-49.3l5,-59.7l4.5,-46.8l1.5,-9.5l2.5,-9.9l3,-8.3l1.5,-1.3l1.5,2l3,7.6l2,3.2l1,2.7l4,29.9l5,20.1l1,2.2l3,3.8l2.5,1.9l2,2.4l3.5,9.6l2.5,5.4l5.5,28.5l1.5,5.4l2.5,6.5l3,11.4l5,24l3.5,12.7l2,10.8l3,21.4l1,3.8l2.5,6.1l3.5,17.8l2.5,7.3l2.5,10.9l4,12l1,1.7l2.5,2.7l3.5,8.5l2,3.4l3.5,2l3,-0.4l2.5,2.2l2.5,-0.5l3,5.5l1,-1.6l1.5,-5.6l1,-2l0.5,0l1.5,2.2l1,0.3l4,-8.3l1,-0.5l2,1.2l1,-0.1l3,-5.2l4.5,-5.3l1.5,-1l2,0.4l0.5,-0.4l3,-7.9l3.5,-5.8l1,-0.4l1.5,0.8l3,-4l2.5,-0.4l3.5,-5.5l4,-0.8l2.5,0.9l3,-2.7l2.5,1.7l2.5,-0.7l3.5,5.3l1,-0.2l2,-1.9l1,0.3l6.5,10.4l1,0.3l2,-0.9l3.5,5.5l1.5,0.3l2,1.6l2,-0.4l3,2.7l2.5,0.2l1,0.6l3.5,9l3.5,4.5l3,6.1l1,0.7l5.5,0.8l2.5,3.9l3,2.4l3,4.2l3,1.5l3.5,6.4l2,-0.3l1,0.8l3,7.7l1,1.1l2,0.7l2,3l3,-0.7l2.5,0.8l2.5,-2.4l2.5,0.3l2,-1.8l1,0.6l2,2.8l4,2.2l2.5,3.2l1,-0.4l1.5,-1.8l3.5,-2.7l1,0.5l2.5,2.6l2.5,1l2.5,-1.2l2.5,0.2l2.5,-1.8l2.5,0.2l3.5,-2.9l4.5,1.7l2,1.9l1,0.2l3,-4l1,0.4l7,6.5l2.5,-2.1l3.5,-1.6l1,0.3l3,2.4l1,0.1l5,-4.2l1.5,0.1l2.5,2.3l3,-3l1,0.4l2.5,2.5l4,0l2.5,1.3l2.5,-0.4l2.5,1.6" fill="none" stroke="#000000" stroke-width="3.60" stroke-linejoin="round" stroke-linecap="round"/>
<path d="M373.8,2593.9l21,-0.8l17,-1.1l13.5,-1.6l9,-1.8l3,-1l3,-1.3l2.5,-1.4l2.5,-1.9l2.5,-2.6l2,-2.6l3.5,-6.3l3.5,-9.1l3,-10.7l3,-13.7l2.5,-14.1l3,-20.2l3,-23.4l10,-91l3.5,-28.1l2,-12.8l2,-9.4l1,-3.3l1,-2.2l1,-1.2l0.5,-0.1l0.5,0.1l1,1l1,2.2l1,3.2l1.5,6.7l2,11.9l3.5,26.9l10,86.9l3.5,25.4l3.5,20.5l3.5,15.5l2,6.8l2,5.4l2,4.2l2,3.3l2.5,3l2.5,2l2.5,1.3l2.5,0.9l8,1.5l9,0.6l16,0.2l24,-0.1l67.5,-1.2l81.5,-1l87,-0.6" fill="none" stroke="#1010f0" stroke-width="2.60" stroke-linejoin="round" stroke-linecap="round"/>
<path d="M373.8,2595.5l60,-0.4l11.5,-0.4l7.5,-0.7l3.5,-0.6l3.5,-1l3,-1.2l2.5,-1.4l2.5,-1.7l2.5,-2.3l4,-5l2,-3.4l2,-4.1l2.5,-6.1l2,-5.7l4,-13.9l4,-17.2l3.5,-17.7l3.5,-19.9l13.5,-84.1l3,-16.2l2.5,-11.7l3,-11.3l2.5,-6.8l1.5,-2.9l1,-1.3l1,-1l1.5,-0.6l1.5,0.2l1.5,1l1.5,1.9l1.5,2.5l3,7.3l3.5,11.8l2.5,10.3l3,13.8l11,56.5l4.5,21.6l5,21.1l4.5,15.7l2.5,7.4l2.5,6.4l2.5,5.5l2.5,4.6l2.5,3.9l2.5,3.2l3,3.1l3,2.3l4.5,2.5l5,1.6l6,0.9l8,0.4l56,-1.4l58,-1l56.5,-0.8l49,-0.2" fill="none" stroke="#1010f0" stroke-width="2.60" stroke-linejoin="round" stroke-linecap="round"/>
<path d="M373.8,2595.5l64,-0.3l35,-0.7l3.5,-0.3l8,-1.9l7.5,-2.7l21.5,-9.5l21,-8.9l5.5,-2.1l6,-1.7l18.5,-3.6l5.5,-1.4l4.5,-1.5l5.5,-2.4l5.5,-2.9l5,-3.4l5,-4.2l5.5,-5.4l5.5,-6.2l5.5,-7l13,-17.2l7.5,-8.7l4.5,-4.1l4,-2.8l4,-1.8l3.5,-0.7l4,0.2l4,1.2l4,2l4,2.8l4,3.5l4.5,4.5l19.5,22.6l5,5.3l4.5,4.3l5.5,4.5l5.5,3.8l6,3.3l6,2.4l6,1.8l6.5,1.3l7.5,0.9l8.5,0.5l17.5,0.3l63.5,-0.3" fill="none" stroke="#1010f0" stroke-width="2.60" stroke-linejoin="round" stroke-linecap="round"/>
<path d="M373.8,2595.5l61.5,-0.3l30.5,-0.5l10,-0.4l8,-1.9l7.5,-2.6l22.5,-9.9l20,-8.5l6,-2.2l7,-1.7l10,-1.2l10.5,-0.9l16.5,-1.1l29,-1.4l52.5,-1.8l95,-1.6l74,-0.5" fill="none" stroke="#ff20f0" stroke-width="2.20" stroke-linejoin="round" stroke-linecap="round"/>
<path d="M373.8,2593.8l4.5,0l1,0.3l2,1.2l1,0.2l9.5,-0.1l16,-0.3l14.5,-0.6l8,-0.5l4,-0.9l3,-1.1l2,-1.1l1.5,-1.3l1.5,-2l1.5,-2.6l2,-4.2l4.5,-11.5l2.5,-7.4l2,-7.1l5.5,-23.5l5.5,-27.2l4.5,-27.1l4.5,-33.2l4.5,-39.9l9.5,-102.6l2.5,-23.6l1.5,-9.7l2,-9.3l1,-3.6l1,-2.6l0.5,-0.9l1,-0.8l0.5,0l1,0.6l2,2.9l2,4.7l1.5,4.8l1.5,8l3.5,25.3l1,4.6l1.5,5l3.5,8.5l6.5,11.5l2.5,4.9l2.5,6.4l2,6.5l7.5,31.3l9.5,38l8.5,42.6l4,17.8l4.5,18.1l6.5,22.9l2.5,7.8l2.5,5.8l4.5,6.6l4,4.5l2,1.5l1.5,0.7l2,0.4l2,-0.1l2.5,-0.6l3,-1.1l7,-3.6l4,-3.6l7.5,-8.5l11.5,-15l4.5,-4.9l6,-4.5l5,-3.1l3.5,-1.4l3.5,-0.4l3,0.6l4,2l14.5,9.2l6,4.4l2.5,2.3l2,2.2l6,8.9l3,3.7l7,7l6.5,5.4l4.5,3.1l10,5.5l5.5,2.8l5,2l5,1.3l4.5,0.5l41,0.7l48,0.2l1.5,0.1l2.5,1.1l3,0.1" fill="none" stroke="#f00000" stroke-width="3.00" stroke-linejoin="round" stroke-linecap="round"/>
<marker id="m76" markerUnits="userSpaceOnUse" markerWidth="11.2" markerHeight="11.2" refX="5.6" refY="5.6" overflow="visible"><circle cx="5.6" cy="5.6" r="3.6" fill="none" stroke="#f00000" stroke-width="2.2"/></marker>
<path d="M374.8,2593.8l3.3,0l3.3,1.5l3.3,0.2l3.3,0l3.3,-0.1l3.3,0l3.3,-0.1l3.3,0l3.3,-0.1l3.3,-0.1l3.3,-0.1l3.3,-0.2l3.3,-0.1l3.3,-0.2l3.3,-0.1l3.3,-0.2l3.3,-0.3l3.3,-0.7l3.3,-1.3l3.3,-2.3l3.3,-5.2l3.3,-7.5l3.3,-8.7l3.3,-10.4l3.3,-13.1l3.3,-14.7l3.3,-15.9l3.3,-17.9l3.3,-20.5l3.3,-23.9l3.3,-27.7l3.3,-31.1l3.3,-36.2l3.3,-36.3l3.3,-34.3l3.3,-22.2l3.3,-11.7l3.3,-0.5l3.3,6.4l3.3,13.6l3.3,24.1l3.3,12.5l3.3,7.6l3.3,5.9l3.3,5.7l3.3,7.1l3.3,10.2l3.3,13.4l3.3,14.2l3.3,13.2l3.3,12.8l3.3,13.5l3.3,15.6l3.3,17.2l3.3,16.3l3.3,14.4l3.3,13.3l3.3,12.1l3.3,11.6l3.3,10.5l3.3,7.2l3.3,4.7l3.3,3.9l3.3,2.7l3.3,1l3.3,-0.3l3.3,-1.1l3.3,-1.5l3.3,-1.7l3.3,-2.4l3.3,-3.4l3.3,-3.8l3.3,-3.7l3.3,-4.2l3.3,-4.5l3.3,-4.4l3.3,-4l3.3,-3.2l3.3,-2.5l3.3,-2.3l3.3,-1.9l3.3,-1.4l3.3,-0.5l3.3,0.5l3.3,1.5l3.3,2.1l3.3,2.2l3.3,2l3.3,2l3.3,2.1l3.3,2.4l3.3,2.8l3.3,3.6l3.3,4.9l3.3,4.8l3.3,3.8l3.3,3.3l3.3,3.1l3.3,2.9l3.3,2.5l3.3,2.1l3.3,1.9l3.3,1.9l3.3,1.8l3.3,1.7l3.3,1.5l3.3,1.3l3.3,1.1l3.3,0.7l3.3,0.4l3.3,0.1l3.3,0l3.3,0.1l3.3,0.1l3.3,0l3.3,0.1l3.3,0l3.3,0.1l3.3,0l3.3,0.1l3.3,0l3.3,0l3.3,0.1l3.3,0l3.3,0l3.3,0.1l3.3,0l3.3,0l3.3,0l3.3,0l3.3,0.1l3.3,0l3.3,0l3.3,0l3.3,0l3.3,0l3.3,0l3.3,0.7l3.3,0.6" fill="none" stroke="none" marker-start="url(#m76)" marker-mid="url(#m76)" marker-end="url(#m76)"/>
<line x1="130.1" y1="395.3" x2="130.1" y2="386.8" stroke="#000" stroke-width="2.8"/>
<line x1="207.2" y1="395.3" x2="207.2" y2="386.8" stroke="#000" stroke-width="2.8"/>
<line x1="284.3" y1="395.3" x2="284.3" y2="386.8" stroke="#000" stroke-width="2.8"/>
<line x1="361.4" y1="395.3" x2="361.4" y2="386.8" stroke="#000" stroke-width="2.8"/>
<line x1="438.5" y1="395.3" x2="438.5" y2="386.8" stroke="#000" stroke-width="2.8"/>
<rect x="53.0" y="21.0" width="462.6" height="374.3" fill="none" stroke="#000" stroke-width="3.3"/>
<text x="38.8" y="417.6" font-size="16.5" fill="#1a1a1a" textLength="28.4" lengthAdjust="spacingAndGlyphs">200</text>
<text x="115.9" y="417.6" font-size="16.5" fill="#1a1a1a" textLength="28.4" lengthAdjust="spacingAndGlyphs">300</text>
<text x="193.0" y="417.6" font-size="16.5" fill="#1a1a1a" textLength="28.4" lengthAdjust="spacingAndGlyphs">400</text>
<text x="270.1" y="417.6" font-size="16.5" fill="#1a1a1a" textLength="28.4" lengthAdjust="spacingAndGlyphs">500</text>
<text x="347.2" y="417.6" font-size="16.5" fill="#1a1a1a" textLength="28.4" lengthAdjust="spacingAndGlyphs">600</text>
<text x="424.3" y="417.6" font-size="16.5" fill="#1a1a1a" textLength="28.4" lengthAdjust="spacingAndGlyphs">700</text>
<text x="501.4" y="417.6" font-size="16.5" fill="#1a1a1a" textLength="28.4" lengthAdjust="spacingAndGlyphs">800</text>
<line x1="662.3" y1="405.0" x2="662.3" y2="396.5" stroke="#000" stroke-width="2.8"/>
<line x1="741.0" y1="405.0" x2="741.0" y2="396.5" stroke="#000" stroke-width="2.8"/>
<line x1="819.8" y1="405.0" x2="819.8" y2="396.5" stroke="#000" stroke-width="2.8"/>
<line x1="898.6" y1="405.0" x2="898.6" y2="396.5" stroke="#000" stroke-width="2.8"/>
<line x1="977.3" y1="405.0" x2="977.3" y2="396.5" stroke="#000" stroke-width="2.8"/>
<rect x="583.5" y="23.8" width="472.6" height="381.2" fill="none" stroke="#000" stroke-width="3.3"/>
<text x="569.3" y="427.6" font-size="16.5" fill="#1a1a1a" textLength="28.4" lengthAdjust="spacingAndGlyphs">100</text>
<text x="648.1" y="427.6" font-size="16.5" fill="#1a1a1a" textLength="28.4" lengthAdjust="spacingAndGlyphs">200</text>
<text x="726.9" y="427.6" font-size="16.5" fill="#1a1a1a" textLength="28.4" lengthAdjust="spacingAndGlyphs">300</text>
<text x="805.6" y="427.6" font-size="16.5" fill="#1a1a1a" textLength="28.4" lengthAdjust="spacingAndGlyphs">400</text>
<text x="884.4" y="427.6" font-size="16.5" fill="#1a1a1a" textLength="28.4" lengthAdjust="spacingAndGlyphs">500</text>
<text x="963.2" y="427.6" font-size="16.5" fill="#1a1a1a" textLength="28.4" lengthAdjust="spacingAndGlyphs">600</text>
<text x="1041.9" y="427.6" font-size="16.5" fill="#1a1a1a" textLength="28.4" lengthAdjust="spacingAndGlyphs">700</text>
<line x1="118.3" y1="847.4" x2="118.3" y2="838.9" stroke="#000" stroke-width="2.8"/>
<line x1="181.3" y1="847.4" x2="181.3" y2="838.9" stroke="#000" stroke-width="2.8"/>
<line x1="244.3" y1="847.4" x2="244.3" y2="838.9" stroke="#000" stroke-width="2.8"/>
<line x1="307.3" y1="847.4" x2="307.3" y2="838.9" stroke="#000" stroke-width="2.8"/>
<line x1="370.3" y1="847.4" x2="370.3" y2="838.9" stroke="#000" stroke-width="2.8"/>
<line x1="433.3" y1="847.4" x2="433.3" y2="838.9" stroke="#000" stroke-width="2.8"/>
<line x1="496.3" y1="847.4" x2="496.3" y2="838.9" stroke="#000" stroke-width="2.8"/>
<rect x="55.3" y="462.0" width="472.5" height="385.4" fill="none" stroke="#000" stroke-width="3.3"/>
<text x="41.1" y="869.4" font-size="16.5" fill="#1a1a1a" textLength="28.4" lengthAdjust="spacingAndGlyphs">280</text>
<text x="104.1" y="869.4" font-size="16.5" fill="#1a1a1a" textLength="28.4" lengthAdjust="spacingAndGlyphs">282</text>
<text x="167.1" y="869.4" font-size="16.5" fill="#1a1a1a" textLength="28.4" lengthAdjust="spacingAndGlyphs">284</text>
<text x="230.1" y="869.4" font-size="16.5" fill="#1a1a1a" textLength="28.4" lengthAdjust="spacingAndGlyphs">286</text>
<text x="293.1" y="869.4" font-size="16.5" fill="#1a1a1a" textLength="28.4" lengthAdjust="spacingAndGlyphs">288</text>
<text x="356.1" y="869.4" font-size="16.5" fill="#1a1a1a" textLength="28.4" lengthAdjust="spacingAndGlyphs">290</text>
<text x="419.1" y="869.4" font-size="16.5" fill="#1a1a1a" textLength="28.4" lengthAdjust="spacingAndGlyphs">292</text>
<text x="482.1" y="869.4" font-size="16.5" fill="#1a1a1a" textLength="28.4" lengthAdjust="spacingAndGlyphs">294</text>
<line x1="649.1" y1="835.2" x2="649.1" y2="826.7" stroke="#000" stroke-width="2.8"/>
<line x1="716.9" y1="835.2" x2="716.9" y2="826.7" stroke="#000" stroke-width="2.8"/>
<line x1="784.7" y1="835.2" x2="784.7" y2="826.7" stroke="#000" stroke-width="2.8"/>
<line x1="852.4" y1="835.2" x2="852.4" y2="826.7" stroke="#000" stroke-width="2.8"/>
<line x1="920.2" y1="835.2" x2="920.2" y2="826.7" stroke="#000" stroke-width="2.8"/>
<line x1="988.0" y1="835.2" x2="988.0" y2="826.7" stroke="#000" stroke-width="2.8"/>
<rect x="581.3" y="462.3" width="474.5" height="372.9" fill="none" stroke="#000" stroke-width="3.3"/>
<text x="567.1" y="858.0" font-size="16.5" fill="#1a1a1a" textLength="28.4" lengthAdjust="spacingAndGlyphs">280</text>
<text x="634.9" y="858.0" font-size="16.5" fill="#1a1a1a" textLength="28.4" lengthAdjust="spacingAndGlyphs">282</text>
<text x="702.7" y="858.0" font-size="16.5" fill="#1a1a1a" textLength="28.4" lengthAdjust="spacingAndGlyphs">284</text>
<text x="770.5" y="858.0" font-size="16.5" fill="#1a1a1a" textLength="28.4" lengthAdjust="spacingAndGlyphs">286</text>
<text x="838.3" y="858.0" font-size="16.5" fill="#1a1a1a" textLength="28.4" lengthAdjust="spacingAndGlyphs">288</text>
<text x="906.1" y="858.0" font-size="16.5" fill="#1a1a1a" textLength="28.4" lengthAdjust="spacingAndGlyphs">290</text>
<text x="973.8" y="858.0" font-size="16.5" fill="#1a1a1a" textLength="28.4" lengthAdjust="spacingAndGlyphs">292</text>
<text x="1041.6" y="858.0" font-size="16.5" fill="#1a1a1a" textLength="28.4" lengthAdjust="spacingAndGlyphs">294</text>
<line x1="118.4" y1="1282.4" x2="118.4" y2="1273.9" stroke="#000" stroke-width="2.8"/>
<line x1="176.3" y1="1282.4" x2="176.3" y2="1273.9" stroke="#000" stroke-width="2.8"/>
<line x1="234.1" y1="1282.4" x2="234.1" y2="1273.9" stroke="#000" stroke-width="2.8"/>
<line x1="291.9" y1="1282.4" x2="291.9" y2="1273.9" stroke="#000" stroke-width="2.8"/>
<line x1="349.8" y1="1282.4" x2="349.8" y2="1273.9" stroke="#000" stroke-width="2.8"/>
<line x1="407.6" y1="1282.4" x2="407.6" y2="1273.9" stroke="#000" stroke-width="2.8"/>
<line x1="465.5" y1="1282.4" x2="465.5" y2="1273.9" stroke="#000" stroke-width="2.8"/>
<rect x="60.6" y="907.5" width="462.7" height="374.9" fill="none" stroke="#000" stroke-width="3.3"/>
<text x="46.4" y="1304.0" font-size="16.5" fill="#1a1a1a" textLength="28.4" lengthAdjust="spacingAndGlyphs">526</text>
<text x="104.3" y="1304.0" font-size="16.5" fill="#1a1a1a" textLength="28.4" lengthAdjust="spacingAndGlyphs">528</text>
<text x="162.1" y="1304.0" font-size="16.5" fill="#1a1a1a" textLength="28.4" lengthAdjust="spacingAndGlyphs">530</text>
<text x="219.9" y="1304.0" font-size="16.5" fill="#1a1a1a" textLength="28.4" lengthAdjust="spacingAndGlyphs">532</text>
<text x="277.8" y="1304.0" font-size="16.5" fill="#1a1a1a" textLength="28.4" lengthAdjust="spacingAndGlyphs">534</text>
<text x="335.6" y="1304.0" font-size="16.5" fill="#1a1a1a" textLength="28.4" lengthAdjust="spacingAndGlyphs">536</text>
<text x="393.4" y="1304.0" font-size="16.5" fill="#1a1a1a" textLength="28.4" lengthAdjust="spacingAndGlyphs">538</text>
<text x="451.3" y="1304.0" font-size="16.5" fill="#1a1a1a" textLength="28.4" lengthAdjust="spacingAndGlyphs">540</text>
<text x="509.1" y="1304.0" font-size="16.5" fill="#1a1a1a" textLength="28.4" lengthAdjust="spacingAndGlyphs">542</text>
<line x1="600.1" y1="1282.3" x2="600.1" y2="1273.8" stroke="#000" stroke-width="2.8"/>
<line x1="656.7" y1="1282.3" x2="656.7" y2="1273.8" stroke="#000" stroke-width="2.8"/>
<line x1="713.3" y1="1282.3" x2="713.3" y2="1273.8" stroke="#000" stroke-width="2.8"/>
<line x1="769.9" y1="1282.3" x2="769.9" y2="1273.8" stroke="#000" stroke-width="2.8"/>
<line x1="826.6" y1="1282.3" x2="826.6" y2="1273.8" stroke="#000" stroke-width="2.8"/>
<line x1="883.2" y1="1282.3" x2="883.2" y2="1273.8" stroke="#000" stroke-width="2.8"/>
<line x1="939.8" y1="1282.3" x2="939.8" y2="1273.8" stroke="#000" stroke-width="2.8"/>
<line x1="996.4" y1="1282.3" x2="996.4" y2="1273.8" stroke="#000" stroke-width="2.8"/>
<rect x="571.8" y="908.0" width="481.2" height="374.3" fill="none" stroke="#000" stroke-width="3.3"/>
<text x="585.9" y="1305.0" font-size="16.5" fill="#1a1a1a" textLength="28.4" lengthAdjust="spacingAndGlyphs">526</text>
<text x="642.5" y="1305.0" font-size="16.5" fill="#1a1a1a" textLength="28.4" lengthAdjust="spacingAndGlyphs">528</text>
<text x="699.2" y="1305.0" font-size="16.5" fill="#1a1a1a" textLength="28.4" lengthAdjust="spacingAndGlyphs">530</text>
<text x="755.8" y="1305.0" font-size="16.5" fill="#1a1a1a" textLength="28.4" lengthAdjust="spacingAndGlyphs">532</text>
<text x="812.4" y="1305.0" font-size="16.5" fill="#1a1a1a" textLength="28.4" lengthAdjust="spacingAndGlyphs">534</text>
<text x="869.0" y="1305.0" font-size="16.5" fill="#1a1a1a" textLength="28.4" lengthAdjust="spacingAndGlyphs">536</text>
<text x="925.6" y="1305.0" font-size="16.5" fill="#1a1a1a" textLength="28.4" lengthAdjust="spacingAndGlyphs">538</text>
<text x="982.2" y="1305.0" font-size="16.5" fill="#1a1a1a" textLength="28.4" lengthAdjust="spacingAndGlyphs">540</text>
<text x="1038.8" y="1305.0" font-size="16.5" fill="#1a1a1a" textLength="28.4" lengthAdjust="spacingAndGlyphs">542</text>
<line x1="82.8" y1="1717.8" x2="82.8" y2="1709.3" stroke="#000" stroke-width="2.8"/>
<line x1="137.5" y1="1717.8" x2="137.5" y2="1709.3" stroke="#000" stroke-width="2.8"/>
<line x1="192.2" y1="1717.8" x2="192.2" y2="1709.3" stroke="#000" stroke-width="2.8"/>
<line x1="246.9" y1="1717.8" x2="246.9" y2="1709.3" stroke="#000" stroke-width="2.8"/>
<line x1="301.6" y1="1717.8" x2="301.6" y2="1709.3" stroke="#000" stroke-width="2.8"/>
<line x1="356.3" y1="1717.8" x2="356.3" y2="1709.3" stroke="#000" stroke-width="2.8"/>
<line x1="411.1" y1="1717.8" x2="411.1" y2="1709.3" stroke="#000" stroke-width="2.8"/>
<line x1="465.8" y1="1717.8" x2="465.8" y2="1709.3" stroke="#000" stroke-width="2.8"/>
<rect x="55.4" y="1342.4" width="465.1" height="375.4" fill="none" stroke="#000" stroke-width="3.3"/>
<text x="68.6" y="1740.2" font-size="16.5" fill="#1a1a1a" textLength="28.4" lengthAdjust="spacingAndGlyphs">394</text>
<text x="123.3" y="1740.2" font-size="16.5" fill="#1a1a1a" textLength="28.4" lengthAdjust="spacingAndGlyphs">396</text>
<text x="178.0" y="1740.2" font-size="16.5" fill="#1a1a1a" textLength="28.4" lengthAdjust="spacingAndGlyphs">398</text>
<text x="232.7" y="1740.2" font-size="16.5" fill="#1a1a1a" textLength="28.4" lengthAdjust="spacingAndGlyphs">400</text>
<text x="287.5" y="1740.2" font-size="16.5" fill="#1a1a1a" textLength="28.4" lengthAdjust="spacingAndGlyphs">402</text>
<text x="342.2" y="1740.2" font-size="16.5" fill="#1a1a1a" textLength="28.4" lengthAdjust="spacingAndGlyphs">404</text>
<text x="396.9" y="1740.2" font-size="16.5" fill="#1a1a1a" textLength="28.4" lengthAdjust="spacingAndGlyphs">406</text>
<text x="451.6" y="1740.2" font-size="16.5" fill="#1a1a1a" textLength="28.4" lengthAdjust="spacingAndGlyphs">408</text>
<text x="506.3" y="1740.2" font-size="16.5" fill="#1a1a1a" textLength="28.4" lengthAdjust="spacingAndGlyphs">410</text>
<line x1="629.6" y1="1715.2" x2="629.6" y2="1706.7" stroke="#000" stroke-width="2.8"/>
<line x1="690.6" y1="1715.2" x2="690.6" y2="1706.7" stroke="#000" stroke-width="2.8"/>
<line x1="751.7" y1="1715.2" x2="751.7" y2="1706.7" stroke="#000" stroke-width="2.8"/>
<line x1="812.8" y1="1715.2" x2="812.8" y2="1706.7" stroke="#000" stroke-width="2.8"/>
<line x1="873.8" y1="1715.2" x2="873.8" y2="1706.7" stroke="#000" stroke-width="2.8"/>
<line x1="934.9" y1="1715.2" x2="934.9" y2="1706.7" stroke="#000" stroke-width="2.8"/>
<line x1="995.9" y1="1715.2" x2="995.9" y2="1706.7" stroke="#000" stroke-width="2.8"/>
<rect x="568.5" y="1341.0" width="488.5" height="374.2" fill="none" stroke="#000" stroke-width="3.3"/>
<text x="554.3" y="1738.0" font-size="16.5" fill="#1a1a1a" textLength="28.4" lengthAdjust="spacingAndGlyphs">394</text>
<text x="615.4" y="1738.0" font-size="16.5" fill="#1a1a1a" textLength="28.4" lengthAdjust="spacingAndGlyphs">396</text>
<text x="676.4" y="1738.0" font-size="16.5" fill="#1a1a1a" textLength="28.4" lengthAdjust="spacingAndGlyphs">398</text>
<text x="737.5" y="1738.0" font-size="16.5" fill="#1a1a1a" textLength="28.4" lengthAdjust="spacingAndGlyphs">400</text>
<text x="798.6" y="1738.0" font-size="16.5" fill="#1a1a1a" textLength="28.4" lengthAdjust="spacingAndGlyphs">402</text>
<text x="859.6" y="1738.0" font-size="16.5" fill="#1a1a1a" textLength="28.4" lengthAdjust="spacingAndGlyphs">404</text>
<text x="920.7" y="1738.0" font-size="16.5" fill="#1a1a1a" textLength="28.4" lengthAdjust="spacingAndGlyphs">406</text>
<text x="981.8" y="1738.0" font-size="16.5" fill="#1a1a1a" textLength="28.4" lengthAdjust="spacingAndGlyphs">408</text>
<text x="1042.8" y="1738.0" font-size="16.5" fill="#1a1a1a" textLength="28.4" lengthAdjust="spacingAndGlyphs">410</text>
<line x1="122.0" y1="2162.6" x2="122.0" y2="2154.1" stroke="#000" stroke-width="2.8"/>
<line x1="188.5" y1="2162.6" x2="188.5" y2="2154.1" stroke="#000" stroke-width="2.8"/>
<line x1="255.0" y1="2162.6" x2="255.0" y2="2154.1" stroke="#000" stroke-width="2.8"/>
<line x1="321.5" y1="2162.6" x2="321.5" y2="2154.1" stroke="#000" stroke-width="2.8"/>
<line x1="388.0" y1="2162.6" x2="388.0" y2="2154.1" stroke="#000" stroke-width="2.8"/>
<line x1="454.5" y1="2162.6" x2="454.5" y2="2154.1" stroke="#000" stroke-width="2.8"/>
<rect x="55.5" y="1777.2" width="465.5" height="385.4" fill="none" stroke="#000" stroke-width="3.3"/>
<text x="41.3" y="2186.3" font-size="16.5" fill="#1a1a1a" textLength="28.4" lengthAdjust="spacingAndGlyphs">630</text>
<text x="107.8" y="2186.3" font-size="16.5" fill="#1a1a1a" textLength="28.4" lengthAdjust="spacingAndGlyphs">635</text>
<text x="174.3" y="2186.3" font-size="16.5" fill="#1a1a1a" textLength="28.4" lengthAdjust="spacingAndGlyphs">640</text>
<text x="240.8" y="2186.3" font-size="16.5" fill="#1a1a1a" textLength="28.4" lengthAdjust="spacingAndGlyphs">645</text>
<text x="307.3" y="2186.3" font-size="16.5" fill="#1a1a1a" textLength="28.4" lengthAdjust="spacingAndGlyphs">650</text>
<text x="373.8" y="2186.3" font-size="16.5" fill="#1a1a1a" textLength="28.4" lengthAdjust="spacingAndGlyphs">655</text>
<text x="440.3" y="2186.3" font-size="16.5" fill="#1a1a1a" textLength="28.4" lengthAdjust="spacingAndGlyphs">660</text>
<text x="506.8" y="2186.3" font-size="16.5" fill="#1a1a1a" textLength="28.4" lengthAdjust="spacingAndGlyphs">665</text>
<line x1="633.5" y1="2168.8" x2="633.5" y2="2160.3" stroke="#000" stroke-width="2.8"/>
<line x1="701.5" y1="2168.8" x2="701.5" y2="2160.3" stroke="#000" stroke-width="2.8"/>
<line x1="769.5" y1="2168.8" x2="769.5" y2="2160.3" stroke="#000" stroke-width="2.8"/>
<line x1="837.5" y1="2168.8" x2="837.5" y2="2160.3" stroke="#000" stroke-width="2.8"/>
<line x1="905.6" y1="2168.8" x2="905.6" y2="2160.3" stroke="#000" stroke-width="2.8"/>
<line x1="973.6" y1="2168.8" x2="973.6" y2="2160.3" stroke="#000" stroke-width="2.8"/>
<line x1="1041.6" y1="2168.8" x2="1041.6" y2="2160.3" stroke="#000" stroke-width="2.8"/>
<rect x="577.0" y="1775.0" width="487.5" height="393.8" fill="none" stroke="#000" stroke-width="3.3"/>
<text x="619.3" y="2193.3" font-size="16.5" fill="#1a1a1a" textLength="28.4" lengthAdjust="spacingAndGlyphs">639</text>
<text x="687.3" y="2193.3" font-size="16.5" fill="#1a1a1a" textLength="28.4" lengthAdjust="spacingAndGlyphs">642</text>
<text x="755.3" y="2193.3" font-size="16.5" fill="#1a1a1a" textLength="28.4" lengthAdjust="spacingAndGlyphs">645</text>
<text x="823.4" y="2193.3" font-size="16.5" fill="#1a1a1a" textLength="28.4" lengthAdjust="spacingAndGlyphs">648</text>
<text x="891.4" y="2193.3" font-size="16.5" fill="#1a1a1a" textLength="28.4" lengthAdjust="spacingAndGlyphs">651</text>
<text x="959.4" y="2193.3" font-size="16.5" fill="#1a1a1a" textLength="28.4" lengthAdjust="spacingAndGlyphs">654</text>
<text x="1027.4" y="2193.3" font-size="16.5" fill="#1a1a1a" textLength="28.4" lengthAdjust="spacingAndGlyphs">657</text>
<line x1="438.5" y1="2621.0" x2="438.5" y2="2612.5" stroke="#000" stroke-width="2.8"/>
<line x1="504.6" y1="2621.0" x2="504.6" y2="2612.5" stroke="#000" stroke-width="2.8"/>
<line x1="570.8" y1="2621.0" x2="570.8" y2="2612.5" stroke="#000" stroke-width="2.8"/>
<line x1="636.9" y1="2621.0" x2="636.9" y2="2612.5" stroke="#000" stroke-width="2.8"/>
<line x1="703.1" y1="2621.0" x2="703.1" y2="2612.5" stroke="#000" stroke-width="2.8"/>
<line x1="769.2" y1="2621.0" x2="769.2" y2="2612.5" stroke="#000" stroke-width="2.8"/>
<rect x="372.3" y="2222.6" width="463.1" height="398.4" fill="none" stroke="#000" stroke-width="3.3"/>
<text x="358.1" y="2644.8" font-size="16.5" fill="#1a1a1a" textLength="28.4" lengthAdjust="spacingAndGlyphs">160</text>
<text x="424.3" y="2644.8" font-size="16.5" fill="#1a1a1a" textLength="28.4" lengthAdjust="spacingAndGlyphs">162</text>
<text x="490.4" y="2644.8" font-size="16.5" fill="#1a1a1a" textLength="28.4" lengthAdjust="spacingAndGlyphs">164</text>
<text x="556.6" y="2644.8" font-size="16.5" fill="#1a1a1a" textLength="28.4" lengthAdjust="spacingAndGlyphs">166</text>
<text x="622.8" y="2644.8" font-size="16.5" fill="#1a1a1a" textLength="28.4" lengthAdjust="spacingAndGlyphs">168</text>
<text x="688.9" y="2644.8" font-size="16.5" fill="#1a1a1a" textLength="28.4" lengthAdjust="spacingAndGlyphs">170</text>
<text x="755.1" y="2644.8" font-size="16.5" fill="#1a1a1a" textLength="28.4" lengthAdjust="spacingAndGlyphs">172</text>
<text x="821.2" y="2644.8" font-size="16.5" fill="#1a1a1a" textLength="28.4" lengthAdjust="spacingAndGlyphs">174</text>
<text x="195.1" y="449.0" font-size="17.5" fill="#1a1a1a" textLength="179.2" lengthAdjust="spacingAndGlyphs">Binding Energy (eV)</text>
<text x="730.0" y="451.2" font-size="17.8" fill="#1a1a1a" textLength="179.6" lengthAdjust="spacingAndGlyphs">Binding Energy (eV)</text>
<text x="202.1" y="894.0" font-size="17.5" fill="#1a1a1a" textLength="179.2" lengthAdjust="spacingAndGlyphs">Binding Energy (eV)</text>
<text x="727.0" y="879.2" font-size="16.8" fill="#1a1a1a" textLength="182.2" lengthAdjust="spacingAndGlyphs">Binding Energy (eV)</text>
<text x="210.0" y="1324.1" font-size="17.0" fill="#1a1a1a" textLength="165.1" lengthAdjust="spacingAndGlyphs">Binding Energy (eV)</text>
<text x="719.0" y="1326.1" font-size="18.5" fill="#1a1a1a" textLength="186.7" lengthAdjust="spacingAndGlyphs">Binding Energy (eV)</text>
<text x="207.4" y="1760.2" font-size="17.3" fill="#1a1a1a" textLength="180.4" lengthAdjust="spacingAndGlyphs">Binding Energy (eV)</text>
<text x="717.9" y="1760.0" font-size="18.4" fill="#1a1a1a" textLength="187.8" lengthAdjust="spacingAndGlyphs">Binding Energy (eV)</text>
<text x="192.7" y="2210.0" font-size="18.5" fill="#1a1a1a" textLength="191.9" lengthAdjust="spacingAndGlyphs">Binding Energy (eV)</text>
<text x="736.3" y="2212.6" font-size="17.6" fill="#1a1a1a" textLength="169.7" lengthAdjust="spacingAndGlyphs">Binding Energy (eV)</text>
<text x="513.7" y="2664.9" font-size="19.6" fill="#1a1a1a" textLength="180.3" lengthAdjust="spacingAndGlyphs">Binding Energy (eV)</text>
<text transform="translate(38.9,276.0) rotate(-90)" x="0" y="0" font-size="17.4" fill="#1a1a1a" textLength="126.4" lengthAdjust="spacingAndGlyphs">Intensity (a.u)</text>
<text transform="translate(558.0,296.6) rotate(-90)" x="0" y="0" font-size="17.8" fill="#1a1a1a" textLength="124.8" lengthAdjust="spacingAndGlyphs">Intensity (a.u)</text>
<text transform="translate(38.9,711.7) rotate(-90)" x="0" y="0" font-size="17.4" fill="#1a1a1a" textLength="123.7" lengthAdjust="spacingAndGlyphs">Intensity (a.u)</text>
<text transform="translate(557.7,716.0) rotate(-90)" x="0" y="0" font-size="16.1" fill="#1a1a1a" textLength="125.0" lengthAdjust="spacingAndGlyphs">Intensity (a.u)</text>
<text transform="translate(40.7,1170.5) rotate(-90)" x="0" y="0" font-size="16.1" fill="#1a1a1a" textLength="123.7" lengthAdjust="spacingAndGlyphs">Intensity (a.u)</text>
<text transform="translate(554.9,1150.3) rotate(-90)" x="0" y="0" font-size="16.1" fill="#1a1a1a" textLength="125.3" lengthAdjust="spacingAndGlyphs">Intensity (a.u)</text>
<text transform="translate(42.1,1600.4) rotate(-90)" x="0" y="0" font-size="16.1" fill="#1a1a1a" textLength="125.1" lengthAdjust="spacingAndGlyphs">Intensity (a.u)</text>
<text transform="translate(554.6,1590.4) rotate(-90)" x="0" y="0" font-size="17.7" fill="#1a1a1a" textLength="123.7" lengthAdjust="spacingAndGlyphs">Intensity (a.u)</text>
<text transform="translate(36.4,2034.7) rotate(-90)" x="0" y="0" font-size="16.2" fill="#1a1a1a" textLength="125.1" lengthAdjust="spacingAndGlyphs">Intensity (a.u)</text>
<text transform="translate(559.2,2036.1) rotate(-90)" x="0" y="0" font-size="16.0" fill="#1a1a1a" textLength="126.5" lengthAdjust="spacingAndGlyphs">Intensity (a.u)</text>
<text transform="translate(354.9,2476.1) rotate(-90)" x="0" y="0" font-size="16.1" fill="#1a1a1a" textLength="133.7" lengthAdjust="spacingAndGlyphs">Intensity (a.u)</text>
<text transform="translate(14.4,53.1) scale(0.995,1)" fill="#151515"><tspan x="0.0" y="0.0" font-size="28.6">(</tspan><tspan x="9.5" y="0.0" font-size="22.9">a</tspan><tspan x="22.2" y="0.0" font-size="28.6">)</tspan></text>
<text transform="translate(543.6,56.3) scale(1.031,1)" fill="#151515"><tspan x="0.0" y="0.0" font-size="28.1">(</tspan><tspan x="9.3" y="0.0" font-size="22.5">b</tspan><tspan x="23.1" y="0.0" font-size="28.1">)</tspan></text>
<text transform="translate(19.6,483.2) scale(0.920,1)" fill="#151515"><tspan x="0.0" y="0.0" font-size="28.2">(</tspan><tspan x="9.4" y="0.0" font-size="22.5">c</tspan><tspan x="21.9" y="0.0" font-size="28.2">)</tspan></text>
<text transform="translate(537.9,484.9) scale(0.960,1)" fill="#151515"><tspan x="0.0" y="0.0" font-size="28.6">(</tspan><tspan x="9.5" y="0.0" font-size="22.9">d</tspan><tspan x="23.5" y="0.0" font-size="28.6">)</tspan></text>
<text transform="translate(17.9,936.0) scale(0.966,1)" fill="#151515"><tspan x="0.0" y="0.0" font-size="28.1">(</tspan><tspan x="9.3" y="0.0" font-size="22.5">e</tspan><tspan x="21.8" y="0.0" font-size="28.1">)</tspan></text>
<text transform="translate(532.4,935.0) scale(0.967,1)" fill="#151515"><tspan x="0.0" y="0.0" font-size="28.1">(</tspan><tspan x="9.3" y="0.0" font-size="22.5">f</tspan><tspan x="16.8" y="0.0" font-size="28.1">)</tspan></text>
<text transform="translate(20.0,1364.7) scale(0.944,1)" fill="#151515"><tspan x="0.0" y="0.0" font-size="28.1">(</tspan><tspan x="9.3" y="0.0" font-size="22.5">g</tspan><tspan x="23.1" y="0.0" font-size="28.1">)</tspan></text>
<text transform="translate(527.1,1371.3) scale(0.968,1)" fill="#151515"><tspan x="0.0" y="0.0" font-size="29.2">(</tspan><tspan x="9.7" y="0.0" font-size="23.4">h</tspan><tspan x="24.0" y="0.0" font-size="29.2">)</tspan></text>
<text transform="translate(27.7,1810.7) scale(0.913,1)" fill="#151515"><tspan x="0.0" y="0.0" font-size="28.6">(</tspan><tspan x="9.5" y="0.0" font-size="22.9">i</tspan><tspan x="15.9" y="0.0" font-size="28.6">)</tspan></text>
<text transform="translate(547.9,1810.5) scale(0.998,1)" fill="#151515"><tspan x="0.0" y="0.0" font-size="27.4">(</tspan><tspan x="9.1" y="0.0" font-size="21.9">j</tspan><tspan x="15.2" y="0.0" font-size="27.4">)</tspan></text>
<text transform="translate(337.2,2254.2) scale(0.948,1)" fill="#151515"><tspan x="0.0" y="0.0" font-size="30.0">(</tspan><tspan x="10.0" y="0.0" font-size="24.0">k</tspan><tspan x="23.3" y="0.0" font-size="30.0">)</tspan></text>
<text x="101.4" y="68.8" font-size="13.6" fill="#1a1a1a" textLength="35.3" lengthAdjust="spacingAndGlyphs">C 1s</text>
<text x="191.0" y="277.2" font-size="16.1" fill="#1a1a1a" textLength="34.8" lengthAdjust="spacingAndGlyphs">N 1s</text>
<text x="288.0" y="235.0" font-size="15.8" fill="#1a1a1a" textLength="37.8" lengthAdjust="spacingAndGlyphs">O 1S</text>
<text x="713.0" y="55.0" font-size="15.1" fill="#1a1a1a" textLength="35.5" lengthAdjust="spacingAndGlyphs">C 1s</text>
<text x="617.0" y="372.5" font-size="14.9" fill="#1a1a1a" textLength="36.5" lengthAdjust="spacingAndGlyphs">S 2p</text>
<text x="672.3" y="373.6" font-size="16.4" fill="#1a1a1a" textLength="34.9" lengthAdjust="spacingAndGlyphs">S 2s</text>
<text x="905.3" y="199.0" font-size="16.4" fill="#1a1a1a" textLength="37.0" lengthAdjust="spacingAndGlyphs">O 1s</text>
<text x="803.7" y="307.3" font-size="16.3" fill="#1a1a1a" textLength="35.3" lengthAdjust="spacingAndGlyphs">N 1s</text>
<text x="59.9" y="483.6" font-size="16.7" fill="#1a1a1a" textLength="39.3" lengthAdjust="spacingAndGlyphs">C 1s</text>
<text x="584.9" y="483.8" font-size="16.7" fill="#1a1a1a" textLength="43.7" lengthAdjust="spacingAndGlyphs">C 1s</text>
<text x="69.0" y="935.3" font-size="17.4" fill="#1a1a1a" textLength="43.8" lengthAdjust="spacingAndGlyphs">O 1s</text>
<text x="578.8" y="933.2" font-size="19.6" fill="#1a1a1a" textLength="44.8" lengthAdjust="spacingAndGlyphs">O 1s</text>
<text x="59.6" y="1362.0" font-size="13.2" fill="#1a1a1a" textLength="35.3" lengthAdjust="spacingAndGlyphs">N 1s</text>
<text x="573.5" y="1362.8" font-size="17.2" fill="#1a1a1a" textLength="43.3" lengthAdjust="spacingAndGlyphs">N 1s</text>
<text x="63.5" y="1800.5" font-size="15.1" fill="#1a1a1a" textLength="51.7" lengthAdjust="spacingAndGlyphs">Mn 2p</text>
<text x="582.2" y="1794.5" font-size="13.9" fill="#1a1a1a" textLength="49.6" lengthAdjust="spacingAndGlyphs">Mn 2p</text>
<text x="376.8" y="2243.6" font-size="14.4" fill="#1a1a1a" textLength="38.1" lengthAdjust="spacingAndGlyphs">S 2p</text>
<text x="393.2" y="483.2" font-size="12.6" fill="#1a1a1a" textLength="126.2" lengthAdjust="spacingAndGlyphs">Experimental Peak</text>
<line x1="347.3" y1="478.9" x2="389.2" y2="478.9" stroke="#000" stroke-width="3.0"/>
<text x="393.2" y="505.4" font-size="12.6" fill="#1a1a1a" textLength="82.8" lengthAdjust="spacingAndGlyphs">Background</text>
<line x1="347.3" y1="501.1" x2="389.2" y2="501.1" stroke="#f040e0" stroke-width="2.6"/>
<text x="393.2" y="527.8" font-size="12.6" fill="#1a1a1a" textLength="75.7" lengthAdjust="spacingAndGlyphs">Fitted Peak</text>
<line x1="347.3" y1="523.5" x2="389.2" y2="523.5" stroke="#e01010" stroke-width="2.2"/>
<circle cx="368.2" cy="523.5" r="3.6" fill="#ff1010" stroke="#e00000" stroke-width="1"/>
<text x="393.2" y="549.2" font-size="12.6" fill="#1a1a1a" textLength="100.1" lengthAdjust="spacingAndGlyphs">Fit Component</text>
<line x1="347.3" y1="544.9" x2="389.2" y2="544.9" stroke="#1010f0" stroke-width="2.4"/>
<text x="914.0" y="482.2" font-size="12.6" fill="#1a1a1a" textLength="129.0" lengthAdjust="spacingAndGlyphs">Experimental Peak</text>
<line x1="869.0" y1="477.9" x2="909.0" y2="477.9" stroke="#000" stroke-width="3.0"/>
<text x="914.0" y="504.7" font-size="12.6" fill="#1a1a1a" textLength="84.6" lengthAdjust="spacingAndGlyphs">Background</text>
<line x1="869.0" y1="500.4" x2="909.0" y2="500.4" stroke="#f040e0" stroke-width="2.6"/>
<text x="914.0" y="526.9" font-size="12.6" fill="#1a1a1a" textLength="77.4" lengthAdjust="spacingAndGlyphs">Fitted Peak</text>
<line x1="869.0" y1="522.6" x2="909.0" y2="522.6" stroke="#e01010" stroke-width="2.2"/>
<circle cx="889.0" cy="522.6" r="3.6" fill="#ff1010" stroke="#e00000" stroke-width="1"/>
<text x="914.0" y="548.7" font-size="12.6" fill="#1a1a1a" textLength="102.3" lengthAdjust="spacingAndGlyphs">Fit Component</text>
<line x1="869.0" y1="544.4" x2="909.0" y2="544.4" stroke="#1010f0" stroke-width="2.4"/>
<text x="392.4" y="923.3" font-size="10.2" fill="#1a1a1a" textLength="123.6" lengthAdjust="spacingAndGlyphs">Experimental Peak</text>
<line x1="355.0" y1="919.9" x2="388.0" y2="919.9" stroke="#000" stroke-width="2.6"/>
<text x="392.4" y="941.3" font-size="10.2" fill="#1a1a1a" textLength="81.1" lengthAdjust="spacingAndGlyphs">Background</text>
<line x1="355.0" y1="937.9" x2="388.0" y2="937.9" stroke="#f040e0" stroke-width="2.6"/>
<text x="392.4" y="959.1" font-size="10.2" fill="#1a1a1a" textLength="74.1" lengthAdjust="spacingAndGlyphs">Fitted Peak</text>
<line x1="355.0" y1="955.7" x2="388.0" y2="955.7" stroke="#e01010" stroke-width="2.2"/>
<circle cx="371.5" cy="955.7" r="3.0" fill="#ff1010" stroke="#e00000" stroke-width="1"/>
<text x="392.4" y="976.6" font-size="10.2" fill="#1a1a1a" textLength="98.0" lengthAdjust="spacingAndGlyphs">Fit Component</text>
<line x1="355.0" y1="973.2" x2="388.0" y2="973.2" stroke="#1010f0" stroke-width="2.4"/>
<text x="915.6" y="925.3" font-size="10.2" fill="#1a1a1a" textLength="128.2" lengthAdjust="spacingAndGlyphs">Experimental Peak</text>
<line x1="876.0" y1="921.9" x2="913.5" y2="921.9" stroke="#000" stroke-width="2.6"/>
<text x="915.6" y="943.3" font-size="10.2" fill="#1a1a1a" textLength="84.1" lengthAdjust="spacingAndGlyphs">Background</text>
<line x1="876.0" y1="939.9" x2="913.5" y2="939.9" stroke="#f040e0" stroke-width="2.6"/>
<text x="915.6" y="960.8" font-size="10.2" fill="#1a1a1a" textLength="76.9" lengthAdjust="spacingAndGlyphs">Fitted Peak</text>
<line x1="876.0" y1="957.4" x2="913.5" y2="957.4" stroke="#e01010" stroke-width="2.2"/>
<circle cx="894.8" cy="957.4" r="3.0" fill="#ff1010" stroke="#e00000" stroke-width="1"/>
<text x="915.6" y="978.6" font-size="10.2" fill="#1a1a1a" textLength="101.7" lengthAdjust="spacingAndGlyphs">Fit Component</text>
<line x1="876.0" y1="975.2" x2="913.5" y2="975.2" stroke="#1010f0" stroke-width="2.4"/>
<text x="382.9" y="1361.1" font-size="10.2" fill="#1a1a1a" textLength="124.5" lengthAdjust="spacingAndGlyphs">Experimental Peak</text>
<line x1="346.3" y1="1357.7" x2="378.0" y2="1357.7" stroke="#000" stroke-width="2.4"/>
<text x="382.9" y="1379.0" font-size="10.2" fill="#1a1a1a" textLength="81.7" lengthAdjust="spacingAndGlyphs">Background</text>
<line x1="346.3" y1="1375.6" x2="378.0" y2="1375.6" stroke="#f040e0" stroke-width="2.6"/>
<text x="382.9" y="1397.1" font-size="10.2" fill="#1a1a1a" textLength="74.7" lengthAdjust="spacingAndGlyphs">Fitted Peak</text>
<line x1="346.3" y1="1393.7" x2="378.0" y2="1393.7" stroke="#e01010" stroke-width="2.2"/>
<circle cx="362.1" cy="1393.7" r="3.0" fill="#ff1010" stroke="#e00000" stroke-width="1"/>
<text x="382.9" y="1414.9" font-size="10.2" fill="#1a1a1a" textLength="98.7" lengthAdjust="spacingAndGlyphs">Fit Component</text>
<line x1="346.3" y1="1411.5" x2="378.0" y2="1411.5" stroke="#1010f0" stroke-width="2.4"/>
<text x="909.2" y="1361.7" font-size="12.4" fill="#1a1a1a" textLength="133.8" lengthAdjust="spacingAndGlyphs">Experimental Peak</text>
<line x1="861.8" y1="1357.4" x2="904.9" y2="1357.4" stroke="#000" stroke-width="2.4"/>
<text x="909.2" y="1384.2" font-size="12.4" fill="#1a1a1a" textLength="87.8" lengthAdjust="spacingAndGlyphs">Background</text>
<line x1="861.8" y1="1379.9" x2="904.9" y2="1379.9" stroke="#f040e0" stroke-width="2.6"/>
<text x="909.2" y="1406.3" font-size="12.4" fill="#1a1a1a" textLength="80.3" lengthAdjust="spacingAndGlyphs">Fitted Peak</text>
<line x1="861.8" y1="1402.0" x2="904.9" y2="1402.0" stroke="#e01010" stroke-width="2.2"/>
<circle cx="883.3" cy="1402.0" r="3.6" fill="#ff1010" stroke="#e00000" stroke-width="1"/>
<text x="909.2" y="1428.7" font-size="12.4" fill="#1a1a1a" textLength="106.1" lengthAdjust="spacingAndGlyphs">Fit Component</text>
<line x1="861.8" y1="1424.4" x2="904.9" y2="1424.4" stroke="#1010f0" stroke-width="2.4"/>
<text x="387.5" y="1793.9" font-size="12.4" fill="#1a1a1a" textLength="125.7" lengthAdjust="spacingAndGlyphs">Experimental Peak</text>
<line x1="343.5" y1="1789.6" x2="383.7" y2="1789.6" stroke="#000" stroke-width="2.4"/>
<text x="387.5" y="1816.1" font-size="12.4" fill="#1a1a1a" textLength="82.5" lengthAdjust="spacingAndGlyphs">Background</text>
<line x1="343.5" y1="1811.8" x2="383.7" y2="1811.8" stroke="#f040e0" stroke-width="2.6"/>
<text x="387.5" y="1838.3" font-size="12.4" fill="#1a1a1a" textLength="75.4" lengthAdjust="spacingAndGlyphs">Fitted Peak</text>
<line x1="343.5" y1="1834.0" x2="383.7" y2="1834.0" stroke="#e01010" stroke-width="2.2"/>
<circle cx="363.6" cy="1834.0" r="3.6" fill="#ff1010" stroke="#e00000" stroke-width="1"/>
<text x="387.5" y="1860.7" font-size="12.4" fill="#1a1a1a" textLength="99.7" lengthAdjust="spacingAndGlyphs">Fit Component</text>
<line x1="343.5" y1="1856.4" x2="383.7" y2="1856.4" stroke="#1010f0" stroke-width="2.4"/>
<text x="933.0" y="1791.2" font-size="10.5" fill="#1a1a1a" textLength="114.3" lengthAdjust="spacingAndGlyphs">Experimental Peak</text>
<line x1="894.9" y1="1787.6" x2="929.4" y2="1787.6" stroke="#000" stroke-width="2.4"/>
<text x="933.0" y="1809.0" font-size="10.5" fill="#1a1a1a" textLength="75.0" lengthAdjust="spacingAndGlyphs">Background</text>
<line x1="894.9" y1="1805.4" x2="929.4" y2="1805.4" stroke="#f040e0" stroke-width="2.6"/>
<text x="933.0" y="1827.1" font-size="10.5" fill="#1a1a1a" textLength="68.6" lengthAdjust="spacingAndGlyphs">Fitted Peak</text>
<line x1="894.9" y1="1823.5" x2="929.4" y2="1823.5" stroke="#e01010" stroke-width="2.2"/>
<circle cx="912.1" cy="1823.5" r="3.0" fill="#ff1010" stroke="#e00000" stroke-width="1"/>
<text x="933.0" y="1845.8" font-size="10.5" fill="#1a1a1a" textLength="90.7" lengthAdjust="spacingAndGlyphs">Fit Component</text>
<line x1="894.9" y1="1842.2" x2="929.4" y2="1842.2" stroke="#1010f0" stroke-width="2.4"/>
<text x="701.4" y="2239.0" font-size="13.0" fill="#1a1a1a" textLength="127.4" lengthAdjust="spacingAndGlyphs">Experimental Peak</text>
<line x1="656.2" y1="2234.6" x2="698.0" y2="2234.6" stroke="#000" stroke-width="2.4"/>
<text x="701.4" y="2262.5" font-size="13.0" fill="#1a1a1a" textLength="83.6" lengthAdjust="spacingAndGlyphs">Background</text>
<line x1="656.2" y1="2258.1" x2="698.0" y2="2258.1" stroke="#f040e0" stroke-width="2.6"/>
<text x="701.4" y="2286.4" font-size="13.0" fill="#1a1a1a" textLength="76.4" lengthAdjust="spacingAndGlyphs">Fitted Peak</text>
<line x1="656.2" y1="2282.0" x2="698.0" y2="2282.0" stroke="#e01010" stroke-width="2.2"/>
<circle cx="677.1" cy="2282.0" r="3.6" fill="#ff1010" stroke="#e00000" stroke-width="1"/>
<text x="701.4" y="2310.0" font-size="13.0" fill="#1a1a1a" textLength="101.0" lengthAdjust="spacingAndGlyphs">Fit Component</text>
<line x1="656.2" y1="2305.6" x2="698.0" y2="2305.6" stroke="#1010f0" stroke-width="2.4"/>
<text transform="translate(285.5,45.3) scale(1.150,1)" fill="#1a1a1a"><tspan x="0.0" y="0.0" font-size="13.5">Survey (Mn</tspan><tspan x="72.6" y="4.7" font-size="6.7">2</tspan><tspan x="76.4" y="0.0" font-size="13.5">O</tspan><tspan x="86.8" y="4.7" font-size="6.7">3</tspan><tspan x="90.6" y="0.0" font-size="13.5">/N-rGO aerogel)</tspan></text>
<text transform="translate(810.0,45.8) scale(1.165,1)" fill="#1a1a1a"><tspan x="0.0" y="0.0" font-size="13.3">Survey (Mn</tspan><tspan x="71.9" y="4.7" font-size="6.7">2</tspan><tspan x="75.6" y="0.0" font-size="13.3">O</tspan><tspan x="85.9" y="4.7" font-size="6.7">3</tspan><tspan x="89.6" y="0.0" font-size="13.3">/N,S-rGO aerogel)</tspan></text>
<text transform="translate(348.6,256.6) scale(1.269,1)" fill="#1a1a1a"><tspan x="0.0" y="0.0" font-size="14.2">Mn 2p</tspan><tspan x="40.9" y="5.7" font-size="7.1">3/2</tspan></text>
<text transform="translate(423.8,267.3) scale(1.281,1)" fill="#1a1a1a"><tspan x="0.0" y="0.0" font-size="14.0">Mn 2p</tspan><tspan x="40.5" y="5.6" font-size="7.0">3/2</tspan></text>
<line x1="376.8" y1="261.7" x2="390.5" y2="276.5" stroke="#000" stroke-width="1.8"/>
<path d="M394.2,280.5 L387.7,277.6 L391.8,273.8 Z" fill="#000"/>
<line x1="424.3" y1="268.5" x2="406.9" y2="280.1" stroke="#000" stroke-width="1.8"/>
<path d="M402.3,283.2 L406.1,277.3 L409.3,281.9 Z" fill="#000"/>
<text transform="translate(939.5,263.4) scale(1.215,1)" fill="#1a1a1a"><tspan x="0.0" y="0.0" font-size="14.7">Mn 2p</tspan><tspan x="42.5" y="5.9" font-size="7.4">3/2</tspan></text>
<text transform="translate(983.6,232.0) scale(1.227,1)" fill="#1a1a1a"><tspan x="0.0" y="0.0" font-size="14.6">Mn 2p</tspan><tspan x="42.1" y="5.8" font-size="7.3">3/2</tspan></text>
<line x1="977.9" y1="267.0" x2="1004.3" y2="292.7" stroke="#000" stroke-width="1.8"/>
<path d="M1009.3,297.6 L1001.2,294.5 L1005.9,289.6 Z" fill="#000"/>
<line x1="1023.5" y1="239.0" x2="1023.5" y2="289.0" stroke="#000" stroke-width="1.8"/>
<path d="M1023.5,296.0 L1020.1,288.0 L1026.9,288.0 Z" fill="#000"/>
<text x="107.0" y="622.2" font-size="16.4" fill="#1a1a1a" textLength="68.4" lengthAdjust="spacingAndGlyphs">284.4 eV</text>
<text x="120.8" y="643.6" font-size="16.4" fill="#1a1a1a" textLength="34.5" lengthAdjust="spacingAndGlyphs">C<tspan font-weight="normal" fill="#888" stroke="none">–</tspan>C</text>
<line x1="161.0" y1="606.7" x2="188.5" y2="578.0" stroke="#000" stroke-width="2.2"/>
<path d="M194.0,572.2 L190.8,581.6 L184.7,575.8 Z" fill="#000"/>
<text x="273.0" y="697.0" font-size="16.4" fill="#1a1a1a" textLength="68.5" lengthAdjust="spacingAndGlyphs">285.2 eV</text>
<text x="253.5" y="719.8" font-size="16.1" fill="#1a1a1a" textLength="78.5" lengthAdjust="spacingAndGlyphs">C<tspan font-weight="normal" fill="#888" stroke="none">–</tspan>O, C<tspan font-weight="normal" fill="#888" stroke="none">–</tspan>N</text>
<line x1="260.3" y1="696.0" x2="229.9" y2="727.5" stroke="#000" stroke-width="2.2"/>
<path d="M224.3,733.3 L227.5,723.9 L233.6,729.7 Z" fill="#000"/>
<text x="329.0" y="761.6" font-size="16.4" fill="#1a1a1a" textLength="68.3" lengthAdjust="spacingAndGlyphs">287.4 eV</text>
<text x="343.5" y="783.2" font-size="16.3" fill="#1a1a1a" textLength="35.9" lengthAdjust="spacingAndGlyphs">C=O</text>
<line x1="329.0" y1="766.4" x2="308.7" y2="787.9" stroke="#000" stroke-width="2.2"/>
<path d="M303.2,793.7 L306.3,784.3 L312.4,790.0 Z" fill="#000"/>
<text x="647.3" y="603.6" font-size="14.4" fill="#1a1a1a" textLength="57.6" lengthAdjust="spacingAndGlyphs">284.4 eV</text>
<text x="655.0" y="625.1" font-size="14.3" fill="#1a1a1a" textLength="28.9" lengthAdjust="spacingAndGlyphs">C<tspan font-weight="normal" fill="#888" stroke="none">–</tspan>C</text>
<line x1="678.0" y1="588.0" x2="714.2" y2="568.8" stroke="#000" stroke-width="2.0"/>
<path d="M721.3,565.0 L715.3,572.9 L711.4,565.5 Z" fill="#000"/>
<text x="790.0" y="668.3" font-size="14.6" fill="#1a1a1a" textLength="57.4" lengthAdjust="spacingAndGlyphs">285.3 eV</text>
<text x="771.6" y="691.2" font-size="14.4" fill="#1a1a1a" textLength="103.1" lengthAdjust="spacingAndGlyphs">C<tspan font-weight="normal" fill="#888" stroke="none">–</tspan>O, C<tspan font-weight="normal" fill="#888" stroke="none">–</tspan>S, C<tspan font-weight="normal" fill="#888" stroke="none">–</tspan>N</text>
<line x1="799.0" y1="691.6" x2="769.5" y2="712.8" stroke="#000" stroke-width="2.0"/>
<path d="M763.0,717.5 L767.9,708.8 L772.8,715.7 Z" fill="#000"/>
<text x="859.5" y="735.9" font-size="14.4" fill="#1a1a1a" textLength="58.4" lengthAdjust="spacingAndGlyphs">287.5 eV</text>
<text x="867.5" y="757.4" font-size="14.7" fill="#1a1a1a" textLength="30.2" lengthAdjust="spacingAndGlyphs">C=O</text>
<line x1="865.2" y1="744.0" x2="837.2" y2="772.3" stroke="#000" stroke-width="2.0"/>
<path d="M831.6,778.0 L834.9,768.6 L840.9,774.6 Z" fill="#000"/>
<text x="90.6" y="973.2" font-size="14.4" fill="#1a1a1a" textLength="60.4" lengthAdjust="spacingAndGlyphs">530.7 eV</text>
<text x="90.6" y="993.4" font-size="12.6" fill="#1a1a1a" textLength="60.4" lengthAdjust="spacingAndGlyphs">C<tspan font-weight="normal" fill="#888" stroke="none">–</tspan>O<tspan font-weight="normal" fill="#888" stroke="none">–</tspan>Mn</text>
<line x1="149.6" y1="979.2" x2="189.1" y2="1007.6" stroke="#000" stroke-width="2.0"/>
<path d="M195.6,1012.3 L185.8,1010.5 L190.7,1003.6 Z" fill="#000"/>
<text x="79.0" y="1101.2" font-size="14.4" fill="#1a1a1a" textLength="60.5" lengthAdjust="spacingAndGlyphs">529.4 eV</text>
<text x="79.0" y="1121.3" font-size="14.6" fill="#1a1a1a" textLength="40.4" lengthAdjust="spacingAndGlyphs">Mn<tspan font-weight="normal" fill="#888" stroke="none">–</tspan>O</text>
<line x1="132.9" y1="1110.0" x2="159.8" y2="1146.7" stroke="#000" stroke-width="2.0"/>
<path d="M164.5,1153.2 L155.8,1148.4 L162.6,1143.5 Z" fill="#000"/>
<text x="301.8" y="1026.4" font-size="14.4" fill="#1a1a1a" textLength="60.4" lengthAdjust="spacingAndGlyphs">533.1 eV</text>
<text x="301.8" y="1045.1" font-size="14.4" fill="#1a1a1a" textLength="31.6" lengthAdjust="spacingAndGlyphs">C=O</text>
<line x1="293.1" y1="1031.0" x2="265.9" y2="1043.5" stroke="#000" stroke-width="2.0"/>
<path d="M258.6,1046.8 L265.0,1039.2 L268.5,1046.9 Z" fill="#000"/>
<text x="369.4" y="1173.1" font-size="14.4" fill="#1a1a1a" textLength="61.8" lengthAdjust="spacingAndGlyphs">535.3 eV</text>
<text x="369.4" y="1191.7" font-size="14.4" fill="#1a1a1a" textLength="97.7" lengthAdjust="spacingAndGlyphs">O<tspan font-weight="normal" fill="#888" stroke="none">–</tspan>C<tspan font-weight="normal" fill="#888" stroke="none">–</tspan>O/C<tspan font-weight="normal" fill="#888" stroke="none">–</tspan>OH</text>
<line x1="368.0" y1="1179.0" x2="341.1" y2="1200.1" stroke="#000" stroke-width="2.0"/>
<path d="M334.8,1205.0 L339.3,1196.1 L344.5,1202.8 Z" fill="#000"/>
<text x="646.5" y="1022.1" font-size="14.4" fill="#1a1a1a" textLength="64.7" lengthAdjust="spacingAndGlyphs">531.2 eV</text>
<text x="646.5" y="1042.2" font-size="14.4" fill="#1a1a1a" textLength="63.2" lengthAdjust="spacingAndGlyphs">C<tspan font-weight="normal" fill="#888" stroke="none">–</tspan>O<tspan font-weight="normal" fill="#888" stroke="none">–</tspan>Mn</text>
<line x1="702.6" y1="1018.0" x2="740.5" y2="1043.7" stroke="#000" stroke-width="2.0"/>
<path d="M747.1,1048.2 L737.3,1046.6 L742.0,1039.7 Z" fill="#000"/>
<text x="843.0" y="1033.6" font-size="14.4" fill="#1a1a1a" textLength="62.0" lengthAdjust="spacingAndGlyphs">533.1 eV</text>
<text x="851.7" y="1052.3" font-size="14.6" fill="#1a1a1a" textLength="31.6" lengthAdjust="spacingAndGlyphs">C=O</text>
<line x1="856.0" y1="1016.6" x2="807.2" y2="970.3" stroke="#000" stroke-width="2.0"/>
<path d="M801.4,964.8 L810.8,967.9 L805.0,974.0 Z" fill="#000"/>
<text x="902.0" y="1183.1" font-size="14.3" fill="#1a1a1a" textLength="61.9" lengthAdjust="spacingAndGlyphs">535.3 eV</text>
<text x="902.0" y="1202.0" font-size="13.1" fill="#1a1a1a" textLength="99.3" lengthAdjust="spacingAndGlyphs">O<tspan font-weight="normal" fill="#888" stroke="none">–</tspan>C<tspan font-weight="normal" fill="#888" stroke="none">–</tspan>O/C<tspan font-weight="normal" fill="#888" stroke="none">–</tspan>OH</text>
<line x1="900.6" y1="1186.3" x2="870.3" y2="1216.6" stroke="#000" stroke-width="2.0"/>
<path d="M864.7,1222.3 L868.1,1213.0 L874.0,1218.9 Z" fill="#000"/>
<text x="71.9" y="1467.7" font-size="14.3" fill="#1a1a1a" textLength="67.6" lengthAdjust="spacingAndGlyphs">397.9 ev</text>
<text x="71.9" y="1489.2" font-size="14.4" fill="#1a1a1a" textLength="89.1" lengthAdjust="spacingAndGlyphs">pyridinic N</text>
<line x1="126.5" y1="1489.7" x2="185.6" y2="1546.8" stroke="#000" stroke-width="2.0"/>
<path d="M191.3,1552.4 L181.9,1549.2 L187.8,1543.1 Z" fill="#000"/>
<text x="284.0" y="1460.7" font-size="14.6" fill="#1a1a1a" textLength="66.7" lengthAdjust="spacingAndGlyphs">399.2 ev</text>
<text x="284.0" y="1482.2" font-size="14.4" fill="#1a1a1a" textLength="79.6" lengthAdjust="spacingAndGlyphs">pyrrolic N</text>
<line x1="280.4" y1="1466.7" x2="235.6" y2="1420.7" stroke="#000" stroke-width="2.0"/>
<path d="M230.0,1415.0 L239.3,1418.5 L233.3,1424.4 Z" fill="#000"/>
<text x="345.0" y="1569.9" font-size="14.4" fill="#1a1a1a" textLength="66.0" lengthAdjust="spacingAndGlyphs">401.8 ev</text>
<text x="345.0" y="1590.0" font-size="14.4" fill="#1a1a1a" textLength="93.4" lengthAdjust="spacingAndGlyphs">Graphitic N</text>
<line x1="347.8" y1="1573.0" x2="306.0" y2="1614.8" stroke="#000" stroke-width="2.0"/>
<path d="M300.3,1620.5 L303.7,1611.2 L309.6,1617.1 Z" fill="#000"/>
<text x="627.8" y="1429.0" font-size="14.4" fill="#1a1a1a" textLength="57.5" lengthAdjust="spacingAndGlyphs">399.4 eV</text>
<text x="623.5" y="1445.6" font-size="13.6" fill="#1a1a1a" textLength="74.7" lengthAdjust="spacingAndGlyphs">pyridinic N</text>
<line x1="676.7" y1="1415.0" x2="715.9" y2="1390.3" stroke="#000" stroke-width="1.8"/>
<path d="M722.7,1386.0 L717.3,1394.4 L712.8,1387.2 Z" fill="#000"/>
<text x="856.0" y="1509.5" font-size="14.4" fill="#1a1a1a" textLength="57.5" lengthAdjust="spacingAndGlyphs">401.7 eV</text>
<text x="856.0" y="1527.0" font-size="12.8" fill="#1a1a1a" textLength="67.6" lengthAdjust="spacingAndGlyphs">pyrrolic N</text>
<line x1="857.5" y1="1514.0" x2="818.7" y2="1550.3" stroke="#000" stroke-width="2.0"/>
<path d="M812.9,1555.8 L816.6,1546.6 L822.3,1552.7 Z" fill="#000"/>
<text x="961.9" y="1571.4" font-size="14.7" fill="#1a1a1a" textLength="58.1" lengthAdjust="spacingAndGlyphs">405.8 eV</text>
<text x="961.9" y="1587.8" font-size="13.3" fill="#1a1a1a" textLength="75.3" lengthAdjust="spacingAndGlyphs">graphitic N</text>
<line x1="961.0" y1="1573.0" x2="936.7" y2="1595.0" stroke="#000" stroke-width="2.0"/>
<path d="M930.8,1600.4 L934.6,1591.2 L940.3,1597.5 Z" fill="#000"/>
<text x="92.0" y="1901.9" font-size="14.3" fill="#1a1a1a" textLength="66.2" lengthAdjust="spacingAndGlyphs">641.4 eV</text>
<text transform="translate(92.0,1923.8) scale(1.265,1)" fill="#1a1a1a"><tspan x="0.0" y="0.0" font-size="14.2">Mn 2p</tspan><tspan x="40.9" y="5.7" font-size="7.1">3/2</tspan></text>
<line x1="143.8" y1="1885.0" x2="194.5" y2="1853.2" stroke="#000" stroke-width="2.0"/>
<path d="M201.3,1849.0 L195.9,1857.3 L191.4,1850.2 Z" fill="#000"/>
<text x="429.8" y="1933.6" font-size="18.3" fill="#1a1a1a" textLength="67.5" lengthAdjust="spacingAndGlyphs">653.4 eV</text>
<text transform="translate(429.8,1954.4) scale(1.008,1)" fill="#1a1a1a"><tspan x="0.0" y="0.0" font-size="17.5">Mn 2p</tspan><tspan x="50.5" y="7.0" font-size="8.8">1/2</tspan></text>
<line x1="428.3" y1="1937.0" x2="378.2" y2="1915.5" stroke="#000" stroke-width="2.0"/>
<path d="M370.8,1912.4 L380.7,1912.1 L377.4,1919.8 Z" fill="#000"/>
<text x="751.5" y="1808.6" font-size="14.4" fill="#1a1a1a" textLength="56.0" lengthAdjust="spacingAndGlyphs">641.7 eV</text>
<text transform="translate(751.5,1828.6) scale(1.032,1)" fill="#1a1a1a"><tspan x="0.0" y="0.0" font-size="14.3">Mn2p</tspan><tspan x="37.3" y="6.4" font-size="12.2">3/2</tspan></text>
<line x1="751.5" y1="1811.8" x2="699.8" y2="1834.5" stroke="#000" stroke-width="2.0"/>
<path d="M692.5,1837.7 L699.1,1830.2 L702.4,1837.9 Z" fill="#000"/>
<text x="882.0" y="1900.6" font-size="14.4" fill="#1a1a1a" textLength="56.0" lengthAdjust="spacingAndGlyphs">653.7 eV</text>
<text transform="translate(882.0,1920.8) scale(1.048,1)" fill="#1a1a1a"><tspan x="0.0" y="0.0" font-size="14.4">Mn2p</tspan><tspan x="37.7" y="6.5" font-size="12.3">1/2</tspan></text>
<line x1="932.2" y1="1909.6" x2="959.2" y2="1918.5" stroke="#000" stroke-width="2.0"/>
<path d="M966.8,1921.0 L956.9,1922.2 L959.6,1914.2 Z" fill="#000"/>
<text x="409.0" y="2339.0" font-size="16.3" fill="#1a1a1a" textLength="60.5" lengthAdjust="spacingAndGlyphs">163.7 eV</text>
<text x="409.0" y="2359.3" font-size="14.6" fill="#1a1a1a" textLength="47.5" lengthAdjust="spacingAndGlyphs">C<tspan font-weight="normal" fill="#888" stroke="none">–</tspan>S<tspan font-weight="normal" fill="#888" stroke="none">–</tspan>C</text>
<text transform="translate(417.7,2380.0) scale(1.043,1)" fill="#1a1a1a"><tspan x="0.0" y="0.0" font-size="15.3">S2p</tspan><tspan x="28.0" y="6.1" font-size="7.6">3/2</tspan></text>
<line x1="460.9" y1="2348.0" x2="484.0" y2="2334.9" stroke="#000" stroke-width="2.0"/>
<path d="M491.0,2330.9 L485.2,2339.0 L481.1,2331.7 Z" fill="#000"/>
<text x="565.8" y="2297.4" font-size="16.4" fill="#1a1a1a" textLength="60.4" lengthAdjust="spacingAndGlyphs">164.8 eV</text>
<text x="565.8" y="2320.5" font-size="14.4" fill="#1a1a1a" textLength="44.6" lengthAdjust="spacingAndGlyphs"><tspan font-weight="normal" fill="#888" stroke="none">–</tspan>C=S<tspan font-weight="normal" fill="#888" stroke="none">–</tspan></text>
<text transform="translate(573.9,2342.6) scale(1.066,1)" fill="#1a1a1a"><tspan x="0.0" y="0.0" font-size="15.1">S2p</tspan><tspan x="27.8" y="6.1" font-size="7.6">1/2</tspan></text>
<line x1="564.4" y1="2319.4" x2="536.5" y2="2352.1" stroke="#000" stroke-width="2.0"/>
<path d="M531.3,2358.2 L533.9,2348.6 L540.3,2354.1 Z" fill="#000"/>
<text x="664.3" y="2457.1" font-size="16.4" fill="#1a1a1a" textLength="60.9" lengthAdjust="spacingAndGlyphs">168.4 eV</text>
<text transform="translate(676.3,2477.0) scale(0.987,1)" fill="#1a1a1a"><tspan x="0.0" y="0.0" font-size="16.1">SO</tspan><tspan x="23.3" y="6.4" font-size="8.1">x</tspan></text>
<line x1="674.9" y1="2463.2" x2="656.0" y2="2483.2" stroke="#000" stroke-width="2.0"/>
<path d="M650.5,2489.0 L653.6,2479.6 L659.7,2485.3 Z" fill="#000"/></svg>
</body></html>
